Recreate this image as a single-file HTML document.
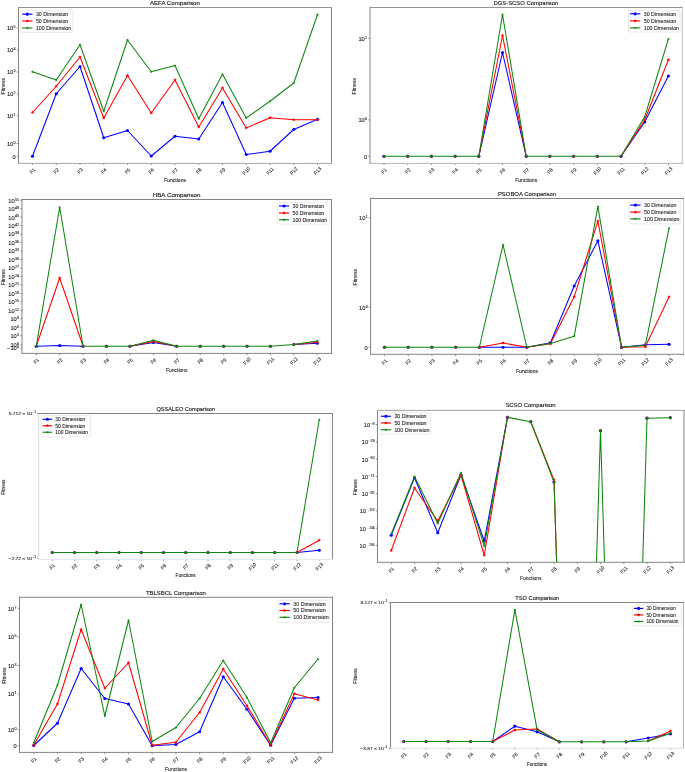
<!DOCTYPE html>
<html><head><meta charset="utf-8"><style>
html,body{margin:0;padding:0;background:#fff;overflow:hidden;}
svg{display:block;font-family:"Liberation Sans", sans-serif;will-change:transform;}
.t{fill:#1a1a1a;stroke:#1a1a1a;stroke-width:0.14px;}
.k{fill:#262626;stroke:#262626;stroke-width:0.1px;}
</style></head><body>
<svg width="685" height="772" viewBox="0 0 685 772">
<rect width="685" height="772" fill="#fff"/>
<clipPath id="c0"><rect x="18.5" y="7.5" width="313.00" height="155.80"/></clipPath>
<text x="149.90" y="5.10" font-size="6.00" textLength="49.90" lengthAdjust="spacingAndGlyphs" class="t">AEFA Comparison</text>
<path d="M16.80 28.00H18.5" stroke="#5a5a5a" stroke-width="0.7"/>
<text transform="translate(15.60,30.40) scale(1.15,1)" font-size="5.00" text-anchor="end" class="k">10<tspan dx="0.25" dy="-2.10" font-size="3.20">5</tspan></text>
<path d="M16.80 50.00H18.5" stroke="#5a5a5a" stroke-width="0.7"/>
<text transform="translate(15.60,52.40) scale(1.15,1)" font-size="5.00" text-anchor="end" class="k">10<tspan dx="0.25" dy="-2.10" font-size="3.20">4</tspan></text>
<path d="M16.80 72.00H18.5" stroke="#5a5a5a" stroke-width="0.7"/>
<text transform="translate(15.60,74.40) scale(1.15,1)" font-size="5.00" text-anchor="end" class="k">10<tspan dx="0.25" dy="-2.10" font-size="3.20">3</tspan></text>
<path d="M16.80 94.00H18.5" stroke="#5a5a5a" stroke-width="0.7"/>
<text transform="translate(15.60,96.40) scale(1.15,1)" font-size="5.00" text-anchor="end" class="k">10<tspan dx="0.25" dy="-2.10" font-size="3.20">2</tspan></text>
<path d="M16.80 115.75H18.5" stroke="#5a5a5a" stroke-width="0.7"/>
<text transform="translate(15.60,118.15) scale(1.15,1)" font-size="5.00" text-anchor="end" class="k">10<tspan dx="0.25" dy="-2.10" font-size="3.20">1</tspan></text>
<path d="M16.80 143.50H18.5" stroke="#5a5a5a" stroke-width="0.7"/>
<text transform="translate(15.60,145.90) scale(1.15,1)" font-size="5.00" text-anchor="end" class="k">10<tspan dx="0.25" dy="-2.10" font-size="3.20">0</tspan></text>
<path d="M16.80 156.25H18.5" stroke="#5a5a5a" stroke-width="0.7"/>
<text transform="translate(15.60,158.65) scale(1.15,1)" font-size="5.00" text-anchor="end" class="k">0</text>
<path d="M32.50 163.3V165.00" stroke="#5a5a5a" stroke-width="0.7"/>
<text transform="translate(32.50,170.90) rotate(-45)" y="1.76" font-size="4.90" text-anchor="middle" class="k">F1</text>
<path d="M56.25 163.3V165.00" stroke="#5a5a5a" stroke-width="0.7"/>
<text transform="translate(56.25,170.90) rotate(-45)" y="1.76" font-size="4.90" text-anchor="middle" class="k">F2</text>
<path d="M80.00 163.3V165.00" stroke="#5a5a5a" stroke-width="0.7"/>
<text transform="translate(80.00,170.90) rotate(-45)" y="1.76" font-size="4.90" text-anchor="middle" class="k">F3</text>
<path d="M103.75 163.3V165.00" stroke="#5a5a5a" stroke-width="0.7"/>
<text transform="translate(103.75,170.90) rotate(-45)" y="1.76" font-size="4.90" text-anchor="middle" class="k">F4</text>
<path d="M127.50 163.3V165.00" stroke="#5a5a5a" stroke-width="0.7"/>
<text transform="translate(127.50,170.90) rotate(-45)" y="1.76" font-size="4.90" text-anchor="middle" class="k">F5</text>
<path d="M151.25 163.3V165.00" stroke="#5a5a5a" stroke-width="0.7"/>
<text transform="translate(151.25,170.90) rotate(-45)" y="1.76" font-size="4.90" text-anchor="middle" class="k">F6</text>
<path d="M175.00 163.3V165.00" stroke="#5a5a5a" stroke-width="0.7"/>
<text transform="translate(175.00,170.90) rotate(-45)" y="1.76" font-size="4.90" text-anchor="middle" class="k">F7</text>
<path d="M198.75 163.3V165.00" stroke="#5a5a5a" stroke-width="0.7"/>
<text transform="translate(198.75,170.90) rotate(-45)" y="1.76" font-size="4.90" text-anchor="middle" class="k">F8</text>
<path d="M222.50 163.3V165.00" stroke="#5a5a5a" stroke-width="0.7"/>
<text transform="translate(222.50,170.90) rotate(-45)" y="1.76" font-size="4.90" text-anchor="middle" class="k">F9</text>
<path d="M246.25 163.3V165.00" stroke="#5a5a5a" stroke-width="0.7"/>
<text transform="translate(246.25,170.90) rotate(-45)" y="1.76" font-size="4.90" text-anchor="middle" class="k">F10</text>
<path d="M270.00 163.3V165.00" stroke="#5a5a5a" stroke-width="0.7"/>
<text transform="translate(270.00,170.90) rotate(-45)" y="1.76" font-size="4.90" text-anchor="middle" class="k">F11</text>
<path d="M293.75 163.3V165.00" stroke="#5a5a5a" stroke-width="0.7"/>
<text transform="translate(293.75,170.90) rotate(-45)" y="1.76" font-size="4.90" text-anchor="middle" class="k">F12</text>
<path d="M317.50 163.3V165.00" stroke="#5a5a5a" stroke-width="0.7"/>
<text transform="translate(317.50,170.90) rotate(-45)" y="1.76" font-size="4.90" text-anchor="middle" class="k">F13</text>
<text x="175.00" y="182.14" font-size="5.10" text-anchor="middle" class="k">Functions</text>
<text transform="translate(5.04,86.20) rotate(-90)" font-size="5.10" text-anchor="middle" class="k">Fitness</text>
<path d="M32.50 156.25L56.25 93.75L80.00 66.50L103.75 137.75L127.50 130.50L151.25 156.00L175.00 136.25L198.75 139.00L222.50 102.50L246.25 154.50L270.00 151.25L293.75 129.50L317.50 119.25" fill="none" stroke="#0000ff" stroke-width="1.05" stroke-linejoin="round" clip-path="url(#c0)"/>
<circle cx="32.50" cy="156.25" r="1.60" fill="#0000ff"/>
<circle cx="56.25" cy="93.75" r="1.60" fill="#0000ff"/>
<circle cx="80.00" cy="66.50" r="1.60" fill="#0000ff"/>
<circle cx="103.75" cy="137.75" r="1.60" fill="#0000ff"/>
<circle cx="127.50" cy="130.50" r="1.60" fill="#0000ff"/>
<circle cx="151.25" cy="156.00" r="1.60" fill="#0000ff"/>
<circle cx="175.00" cy="136.25" r="1.60" fill="#0000ff"/>
<circle cx="198.75" cy="139.00" r="1.60" fill="#0000ff"/>
<circle cx="222.50" cy="102.50" r="1.60" fill="#0000ff"/>
<circle cx="246.25" cy="154.50" r="1.60" fill="#0000ff"/>
<circle cx="270.00" cy="151.25" r="1.60" fill="#0000ff"/>
<circle cx="293.75" cy="129.50" r="1.60" fill="#0000ff"/>
<circle cx="317.50" cy="119.25" r="1.60" fill="#0000ff"/>
<path d="M32.50 112.50L56.25 86.25L80.00 57.00L103.75 118.00L127.50 75.50L151.25 113.00L175.00 80.00L198.75 127.00L222.50 88.00L246.25 128.00L270.00 117.75L293.75 119.75L317.50 119.75" fill="none" stroke="#ff0000" stroke-width="1.05" stroke-linejoin="round" clip-path="url(#c0)"/>
<polygon points="32.50,110.54 33.01,111.80 34.36,111.90 33.33,112.77 33.65,114.08 32.50,113.37 31.35,114.08 31.67,112.77 30.64,111.90 31.99,111.80" fill="#ff0000"/>
<polygon points="56.25,84.29 56.76,85.55 58.11,85.65 57.08,86.52 57.40,87.83 56.25,87.12 55.10,87.83 55.42,86.52 54.39,85.65 55.74,85.55" fill="#ff0000"/>
<polygon points="80.00,55.04 80.51,56.30 81.86,56.40 80.83,57.27 81.15,58.58 80.00,57.87 78.85,58.58 79.17,57.27 78.14,56.40 79.49,56.30" fill="#ff0000"/>
<polygon points="103.75,116.04 104.26,117.30 105.61,117.40 104.58,118.27 104.90,119.58 103.75,118.87 102.60,119.58 102.92,118.27 101.89,117.40 103.24,117.30" fill="#ff0000"/>
<polygon points="127.50,73.54 128.01,74.80 129.36,74.90 128.33,75.77 128.65,77.08 127.50,76.37 126.35,77.08 126.67,75.77 125.64,74.90 126.99,74.80" fill="#ff0000"/>
<polygon points="151.25,111.04 151.76,112.30 153.11,112.40 152.08,113.27 152.40,114.58 151.25,113.87 150.10,114.58 150.42,113.27 149.39,112.40 150.74,112.30" fill="#ff0000"/>
<polygon points="175.00,78.04 175.51,79.30 176.86,79.40 175.83,80.27 176.15,81.58 175.00,80.87 173.85,81.58 174.17,80.27 173.14,79.40 174.49,79.30" fill="#ff0000"/>
<polygon points="198.75,125.04 199.26,126.30 200.61,126.40 199.58,127.27 199.90,128.58 198.75,127.87 197.60,128.58 197.92,127.27 196.89,126.40 198.24,126.30" fill="#ff0000"/>
<polygon points="222.50,86.04 223.01,87.30 224.36,87.40 223.33,88.27 223.65,89.58 222.50,88.87 221.35,89.58 221.67,88.27 220.64,87.40 221.99,87.30" fill="#ff0000"/>
<polygon points="246.25,126.04 246.76,127.30 248.11,127.40 247.08,128.27 247.40,129.58 246.25,128.87 245.10,129.58 245.42,128.27 244.39,127.40 245.74,127.30" fill="#ff0000"/>
<polygon points="270.00,115.79 270.51,117.05 271.86,117.15 270.83,118.02 271.15,119.33 270.00,118.62 268.85,119.33 269.17,118.02 268.14,117.15 269.49,117.05" fill="#ff0000"/>
<polygon points="293.75,117.79 294.26,119.05 295.61,119.15 294.58,120.02 294.90,121.33 293.75,120.62 292.60,121.33 292.92,120.02 291.89,119.15 293.24,119.05" fill="#ff0000"/>
<polygon points="317.50,117.79 318.01,119.05 319.36,119.15 318.33,120.02 318.65,121.33 317.50,120.62 316.35,121.33 316.67,120.02 315.64,119.15 316.99,119.05" fill="#ff0000"/>
<path d="M32.50 71.75L56.25 80.00L80.00 44.75L103.75 111.25L127.50 40.00L151.25 71.75L175.00 65.50L198.75 118.75L222.50 74.25L246.25 118.00L270.00 101.25L293.75 83.00L317.50 14.50" fill="none" stroke="#0e860e" stroke-width="1.05" stroke-linejoin="round" clip-path="url(#c0)"/>
<polygon points="32.50,70.25 32.90,71.20 33.93,71.29 33.14,71.96 33.38,72.96 32.50,72.42 31.62,72.96 31.86,71.96 31.07,71.29 32.10,71.20" fill="#0e860e"/>
<polygon points="56.25,78.50 56.65,79.45 57.68,79.54 56.89,80.21 57.13,81.21 56.25,80.67 55.37,81.21 55.61,80.21 54.82,79.54 55.85,79.45" fill="#0e860e"/>
<polygon points="80.00,43.25 80.40,44.20 81.43,44.29 80.64,44.96 80.88,45.96 80.00,45.42 79.12,45.96 79.36,44.96 78.57,44.29 79.60,44.20" fill="#0e860e"/>
<polygon points="103.75,109.75 104.15,110.70 105.18,110.79 104.39,111.46 104.63,112.46 103.75,111.92 102.87,112.46 103.11,111.46 102.32,110.79 103.35,110.70" fill="#0e860e"/>
<polygon points="127.50,38.50 127.90,39.45 128.93,39.54 128.14,40.21 128.38,41.21 127.50,40.67 126.62,41.21 126.86,40.21 126.07,39.54 127.10,39.45" fill="#0e860e"/>
<polygon points="151.25,70.25 151.65,71.20 152.68,71.29 151.89,71.96 152.13,72.96 151.25,72.42 150.37,72.96 150.61,71.96 149.82,71.29 150.85,71.20" fill="#0e860e"/>
<polygon points="175.00,64.00 175.40,64.95 176.43,65.04 175.64,65.71 175.88,66.71 175.00,66.17 174.12,66.71 174.36,65.71 173.57,65.04 174.60,64.95" fill="#0e860e"/>
<polygon points="198.75,117.25 199.15,118.20 200.18,118.29 199.39,118.96 199.63,119.96 198.75,119.42 197.87,119.96 198.11,118.96 197.32,118.29 198.35,118.20" fill="#0e860e"/>
<polygon points="222.50,72.75 222.90,73.70 223.93,73.79 223.14,74.46 223.38,75.46 222.50,74.92 221.62,75.46 221.86,74.46 221.07,73.79 222.10,73.70" fill="#0e860e"/>
<polygon points="246.25,116.50 246.65,117.45 247.68,117.54 246.89,118.21 247.13,119.21 246.25,118.67 245.37,119.21 245.61,118.21 244.82,117.54 245.85,117.45" fill="#0e860e"/>
<polygon points="270.00,99.75 270.40,100.70 271.43,100.79 270.64,101.46 270.88,102.46 270.00,101.92 269.12,102.46 269.36,101.46 268.57,100.79 269.60,100.70" fill="#0e860e"/>
<polygon points="293.75,81.50 294.15,82.45 295.18,82.54 294.39,83.21 294.63,84.21 293.75,83.67 292.87,84.21 293.11,83.21 292.32,82.54 293.35,82.45" fill="#0e860e"/>
<polygon points="317.50,13.00 317.90,13.95 318.93,14.04 318.14,14.71 318.38,15.71 317.50,15.18 316.62,15.71 316.86,14.71 316.07,14.04 317.10,13.95" fill="#0e860e"/>
<path d="M18.50 7.50L18.50 163.40" stroke="#838383" stroke-width="1" stroke-linecap="square"/>
<path d="M331.50 7.50L331.50 163.40" stroke="#838383" stroke-width="1" stroke-linecap="square"/>
<path d="M18.50 7.50L331.50 7.50" stroke="#959595" stroke-width="1" stroke-linecap="square"/>
<path d="M18.50 163.40L331.50 163.40" stroke="#a5a5a5" stroke-width="1" stroke-linecap="square"/>
<rect x="20.7" y="10.3" width="52.30" height="22.10" rx="1" fill="#fff" fill-opacity="0.8" stroke="#dddddd" stroke-width="0.6"/>
<path d="M22.10 14.20H32.50" stroke="#0000ff" stroke-width="1.15"/>
<circle cx="27.30" cy="14.20" r="1.60" fill="#0000ff"/>
<text x="35.90" y="16.11" font-size="5.30" class="k">30 Dimension</text>
<path d="M22.10 21.00H32.50" stroke="#ff0000" stroke-width="1.15"/>
<polygon points="27.30,19.04 27.81,20.30 29.16,20.40 28.13,21.27 28.45,22.58 27.30,21.87 26.15,22.58 26.47,21.27 25.44,20.40 26.79,20.30" fill="#ff0000"/>
<text x="35.90" y="22.91" font-size="5.30" class="k">50 Dimension</text>
<path d="M22.10 28.00H32.50" stroke="#0e860e" stroke-width="1.15"/>
<polygon points="27.30,26.50 27.70,27.45 28.73,27.54 27.94,28.21 28.18,29.21 27.30,28.68 26.42,29.21 26.66,28.21 25.87,27.54 26.90,27.45" fill="#0e860e"/>
<text x="35.90" y="29.91" font-size="5.30" class="k">100 Dimension</text>
<clipPath id="c1"><rect x="370.0" y="7.5" width="312.40" height="155.80"/></clipPath>
<text x="493.45" y="5.10" font-size="6.00" textLength="64.85" lengthAdjust="spacingAndGlyphs" class="t">DGS-SCSO Comparison</text>
<path d="M368.30 38.30H370.0" stroke="#5a5a5a" stroke-width="0.7"/>
<text transform="translate(367.10,40.70) scale(1.15,1)" font-size="5.00" text-anchor="end" class="k">10<tspan dx="0.25" dy="-2.10" font-size="3.20">1</tspan></text>
<path d="M368.30 119.90H370.0" stroke="#5a5a5a" stroke-width="0.7"/>
<text transform="translate(367.10,122.30) scale(1.15,1)" font-size="5.00" text-anchor="end" class="k">10<tspan dx="0.25" dy="-2.10" font-size="3.20">0</tspan></text>
<path d="M368.30 156.30H370.0" stroke="#5a5a5a" stroke-width="0.7"/>
<text transform="translate(367.10,158.70) scale(1.15,1)" font-size="5.00" text-anchor="end" class="k">0</text>
<path d="M384.00 163.3V165.00" stroke="#5a5a5a" stroke-width="0.7"/>
<text transform="translate(384.00,170.90) rotate(-45)" y="1.76" font-size="4.90" text-anchor="middle" class="k">F1</text>
<path d="M407.70 163.3V165.00" stroke="#5a5a5a" stroke-width="0.7"/>
<text transform="translate(407.70,170.90) rotate(-45)" y="1.76" font-size="4.90" text-anchor="middle" class="k">F2</text>
<path d="M431.40 163.3V165.00" stroke="#5a5a5a" stroke-width="0.7"/>
<text transform="translate(431.40,170.90) rotate(-45)" y="1.76" font-size="4.90" text-anchor="middle" class="k">F3</text>
<path d="M455.10 163.3V165.00" stroke="#5a5a5a" stroke-width="0.7"/>
<text transform="translate(455.10,170.90) rotate(-45)" y="1.76" font-size="4.90" text-anchor="middle" class="k">F4</text>
<path d="M478.80 163.3V165.00" stroke="#5a5a5a" stroke-width="0.7"/>
<text transform="translate(478.80,170.90) rotate(-45)" y="1.76" font-size="4.90" text-anchor="middle" class="k">F5</text>
<path d="M502.50 163.3V165.00" stroke="#5a5a5a" stroke-width="0.7"/>
<text transform="translate(502.50,170.90) rotate(-45)" y="1.76" font-size="4.90" text-anchor="middle" class="k">F6</text>
<path d="M526.20 163.3V165.00" stroke="#5a5a5a" stroke-width="0.7"/>
<text transform="translate(526.20,170.90) rotate(-45)" y="1.76" font-size="4.90" text-anchor="middle" class="k">F7</text>
<path d="M549.90 163.3V165.00" stroke="#5a5a5a" stroke-width="0.7"/>
<text transform="translate(549.90,170.90) rotate(-45)" y="1.76" font-size="4.90" text-anchor="middle" class="k">F8</text>
<path d="M573.60 163.3V165.00" stroke="#5a5a5a" stroke-width="0.7"/>
<text transform="translate(573.60,170.90) rotate(-45)" y="1.76" font-size="4.90" text-anchor="middle" class="k">F9</text>
<path d="M597.30 163.3V165.00" stroke="#5a5a5a" stroke-width="0.7"/>
<text transform="translate(597.30,170.90) rotate(-45)" y="1.76" font-size="4.90" text-anchor="middle" class="k">F10</text>
<path d="M621.00 163.3V165.00" stroke="#5a5a5a" stroke-width="0.7"/>
<text transform="translate(621.00,170.90) rotate(-45)" y="1.76" font-size="4.90" text-anchor="middle" class="k">F11</text>
<path d="M644.70 163.3V165.00" stroke="#5a5a5a" stroke-width="0.7"/>
<text transform="translate(644.70,170.90) rotate(-45)" y="1.76" font-size="4.90" text-anchor="middle" class="k">F12</text>
<path d="M668.40 163.3V165.00" stroke="#5a5a5a" stroke-width="0.7"/>
<text transform="translate(668.40,170.90) rotate(-45)" y="1.76" font-size="4.90" text-anchor="middle" class="k">F13</text>
<text x="526.20" y="182.14" font-size="5.10" text-anchor="middle" class="k">Functions</text>
<text transform="translate(356.34,86.20) rotate(-90)" font-size="5.10" text-anchor="middle" class="k">Fitness</text>
<path d="M478.80 156.30L502.50 52.50L526.20 156.30M621.00 156.30L644.70 122.00L668.40 76.00" fill="none" stroke="#0000ff" stroke-width="1.05" stroke-linejoin="round" clip-path="url(#c1)"/>
<circle cx="384.00" cy="156.30" r="1.60" fill="#0000ff"/>
<circle cx="407.70" cy="156.30" r="1.60" fill="#0000ff"/>
<circle cx="431.40" cy="156.30" r="1.60" fill="#0000ff"/>
<circle cx="455.10" cy="156.30" r="1.60" fill="#0000ff"/>
<circle cx="478.80" cy="156.30" r="1.60" fill="#0000ff"/>
<circle cx="502.50" cy="52.50" r="1.60" fill="#0000ff"/>
<circle cx="526.20" cy="156.30" r="1.60" fill="#0000ff"/>
<circle cx="549.90" cy="156.30" r="1.60" fill="#0000ff"/>
<circle cx="573.60" cy="156.30" r="1.60" fill="#0000ff"/>
<circle cx="597.30" cy="156.30" r="1.60" fill="#0000ff"/>
<circle cx="621.00" cy="156.30" r="1.60" fill="#0000ff"/>
<circle cx="644.70" cy="122.00" r="1.60" fill="#0000ff"/>
<circle cx="668.40" cy="76.00" r="1.60" fill="#0000ff"/>
<path d="M478.80 156.30L502.50 35.50L526.20 156.30M621.00 156.30L644.70 120.00L668.40 59.80" fill="none" stroke="#ff0000" stroke-width="1.05" stroke-linejoin="round" clip-path="url(#c1)"/>
<polygon points="384.00,154.34 384.51,155.60 385.86,155.70 384.83,156.57 385.15,157.88 384.00,157.17 382.85,157.88 383.17,156.57 382.14,155.70 383.49,155.60" fill="#ff0000"/>
<polygon points="407.70,154.34 408.21,155.60 409.56,155.70 408.53,156.57 408.85,157.88 407.70,157.17 406.55,157.88 406.87,156.57 405.84,155.70 407.19,155.60" fill="#ff0000"/>
<polygon points="431.40,154.34 431.91,155.60 433.26,155.70 432.23,156.57 432.55,157.88 431.40,157.17 430.25,157.88 430.57,156.57 429.54,155.70 430.89,155.60" fill="#ff0000"/>
<polygon points="455.10,154.34 455.61,155.60 456.96,155.70 455.93,156.57 456.25,157.88 455.10,157.17 453.95,157.88 454.27,156.57 453.24,155.70 454.59,155.60" fill="#ff0000"/>
<polygon points="478.80,154.34 479.31,155.60 480.66,155.70 479.63,156.57 479.95,157.88 478.80,157.17 477.65,157.88 477.97,156.57 476.94,155.70 478.29,155.60" fill="#ff0000"/>
<polygon points="502.50,33.54 503.01,34.80 504.36,34.90 503.33,35.77 503.65,37.08 502.50,36.37 501.35,37.08 501.67,35.77 500.64,34.90 501.99,34.80" fill="#ff0000"/>
<polygon points="526.20,154.34 526.71,155.60 528.06,155.70 527.03,156.57 527.35,157.88 526.20,157.17 525.05,157.88 525.37,156.57 524.34,155.70 525.69,155.60" fill="#ff0000"/>
<polygon points="549.90,154.34 550.41,155.60 551.76,155.70 550.73,156.57 551.05,157.88 549.90,157.17 548.75,157.88 549.07,156.57 548.04,155.70 549.39,155.60" fill="#ff0000"/>
<polygon points="573.60,154.34 574.11,155.60 575.46,155.70 574.43,156.57 574.75,157.88 573.60,157.17 572.45,157.88 572.77,156.57 571.74,155.70 573.09,155.60" fill="#ff0000"/>
<polygon points="597.30,154.34 597.81,155.60 599.16,155.70 598.13,156.57 598.45,157.88 597.30,157.17 596.15,157.88 596.47,156.57 595.44,155.70 596.79,155.60" fill="#ff0000"/>
<polygon points="621.00,154.34 621.51,155.60 622.86,155.70 621.83,156.57 622.15,157.88 621.00,157.17 619.85,157.88 620.17,156.57 619.14,155.70 620.49,155.60" fill="#ff0000"/>
<polygon points="644.70,118.04 645.21,119.30 646.56,119.40 645.53,120.27 645.85,121.58 644.70,120.87 643.55,121.58 643.87,120.27 642.84,119.40 644.19,119.30" fill="#ff0000"/>
<polygon points="668.40,57.84 668.91,59.10 670.26,59.20 669.23,60.07 669.55,61.38 668.40,60.67 667.25,61.38 667.57,60.07 666.54,59.20 667.89,59.10" fill="#ff0000"/>
<path d="M384.00 156.30L407.70 156.30L431.40 156.30L455.10 156.30L478.80 156.30L502.50 14.50L526.20 156.30L549.90 156.30L573.60 156.30L597.30 156.30L621.00 156.30L644.70 116.80L668.40 39.00" fill="none" stroke="#0e860e" stroke-width="1.05" stroke-linejoin="round" clip-path="url(#c1)"/>
<polygon points="384.00,154.80 384.40,155.75 385.43,155.84 384.64,156.51 384.88,157.51 384.00,156.98 383.12,157.51 383.36,156.51 382.57,155.84 383.60,155.75" fill="#0e860e"/>
<polygon points="407.70,154.80 408.10,155.75 409.13,155.84 408.34,156.51 408.58,157.51 407.70,156.98 406.82,157.51 407.06,156.51 406.27,155.84 407.30,155.75" fill="#0e860e"/>
<polygon points="431.40,154.80 431.80,155.75 432.83,155.84 432.04,156.51 432.28,157.51 431.40,156.98 430.52,157.51 430.76,156.51 429.97,155.84 431.00,155.75" fill="#0e860e"/>
<polygon points="455.10,154.80 455.50,155.75 456.53,155.84 455.74,156.51 455.98,157.51 455.10,156.98 454.22,157.51 454.46,156.51 453.67,155.84 454.70,155.75" fill="#0e860e"/>
<polygon points="478.80,154.80 479.20,155.75 480.23,155.84 479.44,156.51 479.68,157.51 478.80,156.98 477.92,157.51 478.16,156.51 477.37,155.84 478.40,155.75" fill="#0e860e"/>
<polygon points="502.50,13.00 502.90,13.95 503.93,14.04 503.14,14.71 503.38,15.71 502.50,15.18 501.62,15.71 501.86,14.71 501.07,14.04 502.10,13.95" fill="#0e860e"/>
<polygon points="526.20,154.80 526.60,155.75 527.63,155.84 526.84,156.51 527.08,157.51 526.20,156.98 525.32,157.51 525.56,156.51 524.77,155.84 525.80,155.75" fill="#0e860e"/>
<polygon points="549.90,154.80 550.30,155.75 551.33,155.84 550.54,156.51 550.78,157.51 549.90,156.98 549.02,157.51 549.26,156.51 548.47,155.84 549.50,155.75" fill="#0e860e"/>
<polygon points="573.60,154.80 574.00,155.75 575.03,155.84 574.24,156.51 574.48,157.51 573.60,156.98 572.72,157.51 572.96,156.51 572.17,155.84 573.20,155.75" fill="#0e860e"/>
<polygon points="597.30,154.80 597.70,155.75 598.73,155.84 597.94,156.51 598.18,157.51 597.30,156.98 596.42,157.51 596.66,156.51 595.87,155.84 596.90,155.75" fill="#0e860e"/>
<polygon points="621.00,154.80 621.40,155.75 622.43,155.84 621.64,156.51 621.88,157.51 621.00,156.98 620.12,157.51 620.36,156.51 619.57,155.84 620.60,155.75" fill="#0e860e"/>
<polygon points="644.70,115.30 645.10,116.25 646.13,116.34 645.34,117.01 645.58,118.01 644.70,117.47 643.82,118.01 644.06,117.01 643.27,116.34 644.30,116.25" fill="#0e860e"/>
<polygon points="668.40,37.50 668.80,38.45 669.83,38.54 669.04,39.21 669.28,40.21 668.40,39.67 667.52,40.21 667.76,39.21 666.97,38.54 668.00,38.45" fill="#0e860e"/>
<path d="M370.00 7.50L370.00 163.40" stroke="#838383" stroke-width="1" stroke-linecap="square"/>
<path d="M682.30 7.50L682.30 163.40" stroke="#c3c3c3" stroke-width="1" stroke-linecap="square"/>
<path d="M370.00 7.50L682.30 7.50" stroke="#959595" stroke-width="1" stroke-linecap="square"/>
<path d="M370.00 163.40L682.30 163.40" stroke="#b5b5b5" stroke-width="1" stroke-linecap="square"/>
<rect x="628.5" y="10.5" width="51.70" height="21.50" rx="1" fill="#fff" fill-opacity="0.8" stroke="#dddddd" stroke-width="0.6"/>
<path d="M629.90 13.80H640.30" stroke="#0000ff" stroke-width="1.15"/>
<circle cx="635.10" cy="13.80" r="1.60" fill="#0000ff"/>
<text x="643.70" y="15.71" font-size="5.30" class="k">30 Dimension</text>
<path d="M629.90 20.90H640.30" stroke="#ff0000" stroke-width="1.15"/>
<polygon points="635.10,18.94 635.61,20.20 636.96,20.30 635.93,21.17 636.25,22.48 635.10,21.77 633.95,22.48 634.27,21.17 633.24,20.30 634.59,20.20" fill="#ff0000"/>
<text x="643.70" y="22.81" font-size="5.30" class="k">50 Dimension</text>
<path d="M629.90 27.90H640.30" stroke="#0e860e" stroke-width="1.15"/>
<polygon points="635.10,26.40 635.50,27.35 636.53,27.44 635.74,28.11 635.98,29.11 635.10,28.57 634.22,29.11 634.46,28.11 633.67,27.44 634.70,27.35" fill="#0e860e"/>
<text x="643.70" y="29.81" font-size="5.30" class="k">100 Dimension</text>
<clipPath id="c2"><rect x="22.0" y="199.5" width="309.50" height="153.90"/></clipPath>
<text x="152.70" y="197.20" font-size="5.88" textLength="47.85" lengthAdjust="spacingAndGlyphs" class="t">HBA Comparison</text>
<path d="M20.30 200.20H22.0" stroke="#5a5a5a" stroke-width="0.7"/>
<text transform="translate(19.10,202.60) scale(1.15,1)" font-size="5.00" text-anchor="end" class="k">10<tspan dx="0.25" dy="-2.10" font-size="3.20">51</tspan></text>
<path d="M20.30 208.67H22.0" stroke="#5a5a5a" stroke-width="0.7"/>
<text transform="translate(19.10,211.07) scale(1.15,1)" font-size="5.00" text-anchor="end" class="k">10<tspan dx="0.25" dy="-2.10" font-size="3.20">48</tspan></text>
<path d="M20.30 217.14H22.0" stroke="#5a5a5a" stroke-width="0.7"/>
<text transform="translate(19.10,219.54) scale(1.15,1)" font-size="5.00" text-anchor="end" class="k">10<tspan dx="0.25" dy="-2.10" font-size="3.20">45</tspan></text>
<path d="M20.30 225.61H22.0" stroke="#5a5a5a" stroke-width="0.7"/>
<text transform="translate(19.10,228.01) scale(1.15,1)" font-size="5.00" text-anchor="end" class="k">10<tspan dx="0.25" dy="-2.10" font-size="3.20">42</tspan></text>
<path d="M20.30 234.08H22.0" stroke="#5a5a5a" stroke-width="0.7"/>
<text transform="translate(19.10,236.48) scale(1.15,1)" font-size="5.00" text-anchor="end" class="k">10<tspan dx="0.25" dy="-2.10" font-size="3.20">39</tspan></text>
<path d="M20.30 242.55H22.0" stroke="#5a5a5a" stroke-width="0.7"/>
<text transform="translate(19.10,244.95) scale(1.15,1)" font-size="5.00" text-anchor="end" class="k">10<tspan dx="0.25" dy="-2.10" font-size="3.20">36</tspan></text>
<path d="M20.30 251.02H22.0" stroke="#5a5a5a" stroke-width="0.7"/>
<text transform="translate(19.10,253.42) scale(1.15,1)" font-size="5.00" text-anchor="end" class="k">10<tspan dx="0.25" dy="-2.10" font-size="3.20">33</tspan></text>
<path d="M20.30 259.49H22.0" stroke="#5a5a5a" stroke-width="0.7"/>
<text transform="translate(19.10,261.89) scale(1.15,1)" font-size="5.00" text-anchor="end" class="k">10<tspan dx="0.25" dy="-2.10" font-size="3.20">30</tspan></text>
<path d="M20.30 267.96H22.0" stroke="#5a5a5a" stroke-width="0.7"/>
<text transform="translate(19.10,270.36) scale(1.15,1)" font-size="5.00" text-anchor="end" class="k">10<tspan dx="0.25" dy="-2.10" font-size="3.20">27</tspan></text>
<path d="M20.30 276.43H22.0" stroke="#5a5a5a" stroke-width="0.7"/>
<text transform="translate(19.10,278.83) scale(1.15,1)" font-size="5.00" text-anchor="end" class="k">10<tspan dx="0.25" dy="-2.10" font-size="3.20">24</tspan></text>
<path d="M20.30 284.90H22.0" stroke="#5a5a5a" stroke-width="0.7"/>
<text transform="translate(19.10,287.30) scale(1.15,1)" font-size="5.00" text-anchor="end" class="k">10<tspan dx="0.25" dy="-2.10" font-size="3.20">21</tspan></text>
<path d="M20.30 293.37H22.0" stroke="#5a5a5a" stroke-width="0.7"/>
<text transform="translate(19.10,295.77) scale(1.15,1)" font-size="5.00" text-anchor="end" class="k">10<tspan dx="0.25" dy="-2.10" font-size="3.20">18</tspan></text>
<path d="M20.30 301.84H22.0" stroke="#5a5a5a" stroke-width="0.7"/>
<text transform="translate(19.10,304.24) scale(1.15,1)" font-size="5.00" text-anchor="end" class="k">10<tspan dx="0.25" dy="-2.10" font-size="3.20">15</tspan></text>
<path d="M20.30 310.31H22.0" stroke="#5a5a5a" stroke-width="0.7"/>
<text transform="translate(19.10,312.71) scale(1.15,1)" font-size="5.00" text-anchor="end" class="k">10<tspan dx="0.25" dy="-2.10" font-size="3.20">12</tspan></text>
<path d="M20.30 318.78H22.0" stroke="#5a5a5a" stroke-width="0.7"/>
<text transform="translate(19.10,321.18) scale(1.15,1)" font-size="5.00" text-anchor="end" class="k">10<tspan dx="0.25" dy="-2.10" font-size="3.20">9</tspan></text>
<path d="M20.30 327.25H22.0" stroke="#5a5a5a" stroke-width="0.7"/>
<text transform="translate(19.10,329.65) scale(1.15,1)" font-size="5.00" text-anchor="end" class="k">10<tspan dx="0.25" dy="-2.10" font-size="3.20">6</tspan></text>
<path d="M20.30 335.72H22.0" stroke="#5a5a5a" stroke-width="0.7"/>
<text transform="translate(19.10,338.12) scale(1.15,1)" font-size="5.00" text-anchor="end" class="k">10<tspan dx="0.25" dy="-2.10" font-size="3.20">3</tspan></text>
<path d="M20.30 344.90H22.0" stroke="#5a5a5a" stroke-width="0.7"/>
<text transform="translate(19.10,347.30) scale(1.15,1)" font-size="5.00" text-anchor="end" class="k">10<tspan dx="0.25" dy="-2.10" font-size="3.20">0</tspan></text>
<path d="M20.30 348.00H22.0" stroke="#5a5a5a" stroke-width="0.7"/>
<text transform="translate(19.10,350.40) scale(1.15,1)" font-size="5.00" text-anchor="end" class="k">−10<tspan dx="0.25" dy="-2.10" font-size="3.20">0</tspan></text>
<path d="M36.25 353.4V355.10" stroke="#5a5a5a" stroke-width="0.7"/>
<text transform="translate(36.25,361.00) rotate(-45)" y="1.76" font-size="4.90" text-anchor="middle" class="k">F1</text>
<path d="M59.67 353.4V355.10" stroke="#5a5a5a" stroke-width="0.7"/>
<text transform="translate(59.67,361.00) rotate(-45)" y="1.76" font-size="4.90" text-anchor="middle" class="k">F2</text>
<path d="M83.09 353.4V355.10" stroke="#5a5a5a" stroke-width="0.7"/>
<text transform="translate(83.09,361.00) rotate(-45)" y="1.76" font-size="4.90" text-anchor="middle" class="k">F3</text>
<path d="M106.51 353.4V355.10" stroke="#5a5a5a" stroke-width="0.7"/>
<text transform="translate(106.51,361.00) rotate(-45)" y="1.76" font-size="4.90" text-anchor="middle" class="k">F4</text>
<path d="M129.93 353.4V355.10" stroke="#5a5a5a" stroke-width="0.7"/>
<text transform="translate(129.93,361.00) rotate(-45)" y="1.76" font-size="4.90" text-anchor="middle" class="k">F5</text>
<path d="M153.35 353.4V355.10" stroke="#5a5a5a" stroke-width="0.7"/>
<text transform="translate(153.35,361.00) rotate(-45)" y="1.76" font-size="4.90" text-anchor="middle" class="k">F6</text>
<path d="M176.77 353.4V355.10" stroke="#5a5a5a" stroke-width="0.7"/>
<text transform="translate(176.77,361.00) rotate(-45)" y="1.76" font-size="4.90" text-anchor="middle" class="k">F7</text>
<path d="M200.19 353.4V355.10" stroke="#5a5a5a" stroke-width="0.7"/>
<text transform="translate(200.19,361.00) rotate(-45)" y="1.76" font-size="4.90" text-anchor="middle" class="k">F8</text>
<path d="M223.61 353.4V355.10" stroke="#5a5a5a" stroke-width="0.7"/>
<text transform="translate(223.61,361.00) rotate(-45)" y="1.76" font-size="4.90" text-anchor="middle" class="k">F9</text>
<path d="M247.03 353.4V355.10" stroke="#5a5a5a" stroke-width="0.7"/>
<text transform="translate(247.03,361.00) rotate(-45)" y="1.76" font-size="4.90" text-anchor="middle" class="k">F10</text>
<path d="M270.45 353.4V355.10" stroke="#5a5a5a" stroke-width="0.7"/>
<text transform="translate(270.45,361.00) rotate(-45)" y="1.76" font-size="4.90" text-anchor="middle" class="k">F11</text>
<path d="M293.87 353.4V355.10" stroke="#5a5a5a" stroke-width="0.7"/>
<text transform="translate(293.87,361.00) rotate(-45)" y="1.76" font-size="4.90" text-anchor="middle" class="k">F12</text>
<path d="M317.29 353.4V355.10" stroke="#5a5a5a" stroke-width="0.7"/>
<text transform="translate(317.29,361.00) rotate(-45)" y="1.76" font-size="4.90" text-anchor="middle" class="k">F13</text>
<text x="176.75" y="372.20" font-size="5.00" text-anchor="middle" class="k">Functions</text>
<text transform="translate(5.00,277.25) rotate(-90)" font-size="5.00" text-anchor="middle" class="k">Fitness</text>
<path d="M36.25 346.25L59.67 345.50L83.09 346.25M129.93 346.25L153.35 342.50L176.77 346.25M293.87 344.50L317.29 343.25" fill="none" stroke="#0000ff" stroke-width="1.05" stroke-linejoin="round" clip-path="url(#c2)"/>
<circle cx="36.25" cy="346.25" r="1.60" fill="#0000ff"/>
<circle cx="59.67" cy="345.50" r="1.60" fill="#0000ff"/>
<circle cx="83.09" cy="346.25" r="1.60" fill="#0000ff"/>
<circle cx="106.51" cy="346.25" r="1.60" fill="#0000ff"/>
<circle cx="129.93" cy="346.25" r="1.60" fill="#0000ff"/>
<circle cx="153.35" cy="342.50" r="1.60" fill="#0000ff"/>
<circle cx="176.77" cy="346.25" r="1.60" fill="#0000ff"/>
<circle cx="200.19" cy="346.25" r="1.60" fill="#0000ff"/>
<circle cx="223.61" cy="346.25" r="1.60" fill="#0000ff"/>
<circle cx="247.03" cy="346.25" r="1.60" fill="#0000ff"/>
<circle cx="270.45" cy="346.25" r="1.60" fill="#0000ff"/>
<circle cx="293.87" cy="344.50" r="1.60" fill="#0000ff"/>
<circle cx="317.29" cy="343.25" r="1.60" fill="#0000ff"/>
<path d="M36.25 346.25L59.67 278.00L83.09 346.25M129.93 346.25L153.35 341.50L176.77 346.25M293.87 344.50L317.29 342.25" fill="none" stroke="#ff0000" stroke-width="1.05" stroke-linejoin="round" clip-path="url(#c2)"/>
<polygon points="36.25,344.29 36.76,345.55 38.11,345.65 37.08,346.52 37.40,347.83 36.25,347.12 35.10,347.83 35.42,346.52 34.39,345.65 35.74,345.55" fill="#ff0000"/>
<polygon points="59.67,276.04 60.18,277.30 61.53,277.40 60.50,278.27 60.82,279.58 59.67,278.87 58.52,279.58 58.84,278.27 57.81,277.40 59.16,277.30" fill="#ff0000"/>
<polygon points="83.09,344.29 83.60,345.55 84.95,345.65 83.92,346.52 84.24,347.83 83.09,347.12 81.94,347.83 82.26,346.52 81.23,345.65 82.58,345.55" fill="#ff0000"/>
<polygon points="106.51,344.29 107.02,345.55 108.37,345.65 107.34,346.52 107.66,347.83 106.51,347.12 105.36,347.83 105.68,346.52 104.65,345.65 106.00,345.55" fill="#ff0000"/>
<polygon points="129.93,344.29 130.44,345.55 131.79,345.65 130.76,346.52 131.08,347.83 129.93,347.12 128.78,347.83 129.10,346.52 128.07,345.65 129.42,345.55" fill="#ff0000"/>
<polygon points="153.35,339.54 153.86,340.80 155.21,340.90 154.18,341.77 154.50,343.08 153.35,342.37 152.20,343.08 152.52,341.77 151.49,340.90 152.84,340.80" fill="#ff0000"/>
<polygon points="176.77,344.29 177.28,345.55 178.63,345.65 177.60,346.52 177.92,347.83 176.77,347.12 175.62,347.83 175.94,346.52 174.91,345.65 176.26,345.55" fill="#ff0000"/>
<polygon points="200.19,344.29 200.70,345.55 202.05,345.65 201.02,346.52 201.34,347.83 200.19,347.12 199.04,347.83 199.36,346.52 198.33,345.65 199.68,345.55" fill="#ff0000"/>
<polygon points="223.61,344.29 224.12,345.55 225.47,345.65 224.44,346.52 224.76,347.83 223.61,347.12 222.46,347.83 222.78,346.52 221.75,345.65 223.10,345.55" fill="#ff0000"/>
<polygon points="247.03,344.29 247.54,345.55 248.89,345.65 247.86,346.52 248.18,347.83 247.03,347.12 245.88,347.83 246.20,346.52 245.17,345.65 246.52,345.55" fill="#ff0000"/>
<polygon points="270.45,344.29 270.96,345.55 272.31,345.65 271.28,346.52 271.60,347.83 270.45,347.12 269.30,347.83 269.62,346.52 268.59,345.65 269.94,345.55" fill="#ff0000"/>
<polygon points="293.87,342.54 294.38,343.80 295.73,343.90 294.70,344.77 295.02,346.08 293.87,345.37 292.72,346.08 293.04,344.77 292.01,343.90 293.36,343.80" fill="#ff0000"/>
<polygon points="317.29,340.29 317.80,341.55 319.15,341.65 318.12,342.52 318.44,343.83 317.29,343.12 316.14,343.83 316.46,342.52 315.43,341.65 316.78,341.55" fill="#ff0000"/>
<path d="M36.25 346.25L59.67 207.25L83.09 346.25L106.51 346.25L129.93 346.25L153.35 340.25L176.77 346.25L200.19 346.25L223.61 346.25L247.03 346.25L270.45 346.25L293.87 344.50L317.29 341.00" fill="none" stroke="#0e860e" stroke-width="1.05" stroke-linejoin="round" clip-path="url(#c2)"/>
<polygon points="36.25,344.75 36.65,345.70 37.68,345.79 36.89,346.46 37.13,347.46 36.25,346.93 35.37,347.46 35.61,346.46 34.82,345.79 35.85,345.70" fill="#0e860e"/>
<polygon points="59.67,205.75 60.07,206.70 61.10,206.79 60.31,207.46 60.55,208.46 59.67,207.93 58.79,208.46 59.03,207.46 58.24,206.79 59.27,206.70" fill="#0e860e"/>
<polygon points="83.09,344.75 83.49,345.70 84.52,345.79 83.73,346.46 83.97,347.46 83.09,346.93 82.21,347.46 82.45,346.46 81.66,345.79 82.69,345.70" fill="#0e860e"/>
<polygon points="106.51,344.75 106.91,345.70 107.94,345.79 107.15,346.46 107.39,347.46 106.51,346.93 105.63,347.46 105.87,346.46 105.08,345.79 106.11,345.70" fill="#0e860e"/>
<polygon points="129.93,344.75 130.33,345.70 131.36,345.79 130.57,346.46 130.81,347.46 129.93,346.93 129.05,347.46 129.29,346.46 128.50,345.79 129.53,345.70" fill="#0e860e"/>
<polygon points="153.35,338.75 153.75,339.70 154.78,339.79 153.99,340.46 154.23,341.46 153.35,340.93 152.47,341.46 152.71,340.46 151.92,339.79 152.95,339.70" fill="#0e860e"/>
<polygon points="176.77,344.75 177.17,345.70 178.20,345.79 177.41,346.46 177.65,347.46 176.77,346.93 175.89,347.46 176.13,346.46 175.34,345.79 176.37,345.70" fill="#0e860e"/>
<polygon points="200.19,344.75 200.59,345.70 201.62,345.79 200.83,346.46 201.07,347.46 200.19,346.93 199.31,347.46 199.55,346.46 198.76,345.79 199.79,345.70" fill="#0e860e"/>
<polygon points="223.61,344.75 224.01,345.70 225.04,345.79 224.25,346.46 224.49,347.46 223.61,346.93 222.73,347.46 222.97,346.46 222.18,345.79 223.21,345.70" fill="#0e860e"/>
<polygon points="247.03,344.75 247.43,345.70 248.46,345.79 247.67,346.46 247.91,347.46 247.03,346.93 246.15,347.46 246.39,346.46 245.60,345.79 246.63,345.70" fill="#0e860e"/>
<polygon points="270.45,344.75 270.85,345.70 271.88,345.79 271.09,346.46 271.33,347.46 270.45,346.93 269.57,347.46 269.81,346.46 269.02,345.79 270.05,345.70" fill="#0e860e"/>
<polygon points="293.87,343.00 294.27,343.95 295.30,344.04 294.51,344.71 294.75,345.71 293.87,345.18 292.99,345.71 293.23,344.71 292.44,344.04 293.47,343.95" fill="#0e860e"/>
<polygon points="317.29,339.50 317.69,340.45 318.72,340.54 317.93,341.21 318.17,342.21 317.29,341.68 316.41,342.21 316.65,341.21 315.86,340.54 316.89,340.45" fill="#0e860e"/>
<path d="M22.00 199.50L22.00 353.40" stroke="#838383" stroke-width="1" stroke-linecap="square"/>
<path d="M331.50 199.50L331.50 353.40" stroke="#838383" stroke-width="1" stroke-linecap="square"/>
<path d="M22.00 199.50L331.50 199.50" stroke="#838383" stroke-width="1" stroke-linecap="square"/>
<path d="M22.00 353.40L331.50 353.40" stroke="#838383" stroke-width="1" stroke-linecap="square"/>
<rect x="277.6" y="202.4" width="52.20" height="21.80" rx="1" fill="#fff" fill-opacity="0.8" stroke="#dddddd" stroke-width="0.6"/>
<path d="M278.97 206.00H289.16" stroke="#0000ff" stroke-width="1.15"/>
<circle cx="284.07" cy="206.00" r="1.60" fill="#0000ff"/>
<text x="292.50" y="207.87" font-size="5.19" class="k">30 Dimension</text>
<path d="M278.97 213.00H289.16" stroke="#ff0000" stroke-width="1.15"/>
<polygon points="284.07,211.04 284.58,212.30 285.93,212.40 284.90,213.27 285.22,214.58 284.07,213.87 282.92,214.58 283.24,213.27 282.21,212.40 283.56,212.30" fill="#ff0000"/>
<text x="292.50" y="214.87" font-size="5.19" class="k">50 Dimension</text>
<path d="M278.97 219.75H289.16" stroke="#0e860e" stroke-width="1.15"/>
<polygon points="284.07,218.25 284.46,219.20 285.49,219.29 284.71,219.96 284.95,220.96 284.07,220.43 283.19,220.96 283.43,219.96 282.64,219.29 283.67,219.20" fill="#0e860e"/>
<text x="292.50" y="221.62" font-size="5.19" class="k">100 Dimension</text>
<clipPath id="c3"><rect x="370.6" y="198.5" width="312.80" height="155.80"/></clipPath>
<text x="497.95" y="196.00" font-size="6.00" textLength="58.05" lengthAdjust="spacingAndGlyphs" class="t">PSOBOA Comparison</text>
<path d="M368.90 217.75H370.6" stroke="#5a5a5a" stroke-width="0.7"/>
<text transform="translate(367.70,220.15) scale(1.15,1)" font-size="5.00" text-anchor="end" class="k">10<tspan dx="0.25" dy="-2.10" font-size="3.20">1</tspan></text>
<path d="M368.90 307.25H370.6" stroke="#5a5a5a" stroke-width="0.7"/>
<text transform="translate(367.70,309.65) scale(1.15,1)" font-size="5.00" text-anchor="end" class="k">10<tspan dx="0.25" dy="-2.10" font-size="3.20">0</tspan></text>
<path d="M368.90 347.25H370.6" stroke="#5a5a5a" stroke-width="0.7"/>
<text transform="translate(367.70,349.65) scale(1.15,1)" font-size="5.00" text-anchor="end" class="k">0</text>
<path d="M384.50 354.3V356.00" stroke="#5a5a5a" stroke-width="0.7"/>
<text transform="translate(384.50,361.90) rotate(-45)" y="1.76" font-size="4.90" text-anchor="middle" class="k">F1</text>
<path d="M408.21 354.3V356.00" stroke="#5a5a5a" stroke-width="0.7"/>
<text transform="translate(408.21,361.90) rotate(-45)" y="1.76" font-size="4.90" text-anchor="middle" class="k">F2</text>
<path d="M431.92 354.3V356.00" stroke="#5a5a5a" stroke-width="0.7"/>
<text transform="translate(431.92,361.90) rotate(-45)" y="1.76" font-size="4.90" text-anchor="middle" class="k">F3</text>
<path d="M455.63 354.3V356.00" stroke="#5a5a5a" stroke-width="0.7"/>
<text transform="translate(455.63,361.90) rotate(-45)" y="1.76" font-size="4.90" text-anchor="middle" class="k">F4</text>
<path d="M479.34 354.3V356.00" stroke="#5a5a5a" stroke-width="0.7"/>
<text transform="translate(479.34,361.90) rotate(-45)" y="1.76" font-size="4.90" text-anchor="middle" class="k">F5</text>
<path d="M503.05 354.3V356.00" stroke="#5a5a5a" stroke-width="0.7"/>
<text transform="translate(503.05,361.90) rotate(-45)" y="1.76" font-size="4.90" text-anchor="middle" class="k">F6</text>
<path d="M526.76 354.3V356.00" stroke="#5a5a5a" stroke-width="0.7"/>
<text transform="translate(526.76,361.90) rotate(-45)" y="1.76" font-size="4.90" text-anchor="middle" class="k">F7</text>
<path d="M550.47 354.3V356.00" stroke="#5a5a5a" stroke-width="0.7"/>
<text transform="translate(550.47,361.90) rotate(-45)" y="1.76" font-size="4.90" text-anchor="middle" class="k">F8</text>
<path d="M574.18 354.3V356.00" stroke="#5a5a5a" stroke-width="0.7"/>
<text transform="translate(574.18,361.90) rotate(-45)" y="1.76" font-size="4.90" text-anchor="middle" class="k">F9</text>
<path d="M597.89 354.3V356.00" stroke="#5a5a5a" stroke-width="0.7"/>
<text transform="translate(597.89,361.90) rotate(-45)" y="1.76" font-size="4.90" text-anchor="middle" class="k">F10</text>
<path d="M621.60 354.3V356.00" stroke="#5a5a5a" stroke-width="0.7"/>
<text transform="translate(621.60,361.90) rotate(-45)" y="1.76" font-size="4.90" text-anchor="middle" class="k">F11</text>
<path d="M645.31 354.3V356.00" stroke="#5a5a5a" stroke-width="0.7"/>
<text transform="translate(645.31,361.90) rotate(-45)" y="1.76" font-size="4.90" text-anchor="middle" class="k">F12</text>
<path d="M669.02 354.3V356.00" stroke="#5a5a5a" stroke-width="0.7"/>
<text transform="translate(669.02,361.90) rotate(-45)" y="1.76" font-size="4.90" text-anchor="middle" class="k">F13</text>
<text x="527.00" y="373.24" font-size="5.10" text-anchor="middle" class="k">Functions</text>
<text transform="translate(356.84,277.20) rotate(-90)" font-size="5.10" text-anchor="middle" class="k">Fitness</text>
<path d="M479.34 347.25L503.05 347.25L526.76 347.30L550.47 342.80L574.18 286.00L597.89 240.80L621.60 347.30L645.31 344.80L669.02 344.30" fill="none" stroke="#0000ff" stroke-width="1.05" stroke-linejoin="round" clip-path="url(#c3)"/>
<circle cx="384.50" cy="347.25" r="1.60" fill="#0000ff"/>
<circle cx="408.21" cy="347.25" r="1.60" fill="#0000ff"/>
<circle cx="431.92" cy="347.25" r="1.60" fill="#0000ff"/>
<circle cx="455.63" cy="347.25" r="1.60" fill="#0000ff"/>
<circle cx="479.34" cy="347.25" r="1.60" fill="#0000ff"/>
<circle cx="503.05" cy="347.25" r="1.60" fill="#0000ff"/>
<circle cx="526.76" cy="347.30" r="1.60" fill="#0000ff"/>
<circle cx="550.47" cy="342.80" r="1.60" fill="#0000ff"/>
<circle cx="574.18" cy="286.00" r="1.60" fill="#0000ff"/>
<circle cx="597.89" cy="240.80" r="1.60" fill="#0000ff"/>
<circle cx="621.60" cy="347.30" r="1.60" fill="#0000ff"/>
<circle cx="645.31" cy="344.80" r="1.60" fill="#0000ff"/>
<circle cx="669.02" cy="344.30" r="1.60" fill="#0000ff"/>
<path d="M479.34 347.25L503.05 343.00L526.76 347.30L550.47 343.80L574.18 296.80L597.89 221.20L621.60 347.30L645.31 346.80L669.02 297.00" fill="none" stroke="#ff0000" stroke-width="1.05" stroke-linejoin="round" clip-path="url(#c3)"/>
<polygon points="384.50,345.29 385.01,346.55 386.36,346.65 385.33,347.52 385.65,348.83 384.50,348.12 383.35,348.83 383.67,347.52 382.64,346.65 383.99,346.55" fill="#ff0000"/>
<polygon points="408.21,345.29 408.72,346.55 410.07,346.65 409.04,347.52 409.36,348.83 408.21,348.12 407.06,348.83 407.38,347.52 406.35,346.65 407.70,346.55" fill="#ff0000"/>
<polygon points="431.92,345.29 432.43,346.55 433.78,346.65 432.75,347.52 433.07,348.83 431.92,348.12 430.77,348.83 431.09,347.52 430.06,346.65 431.41,346.55" fill="#ff0000"/>
<polygon points="455.63,345.29 456.14,346.55 457.49,346.65 456.46,347.52 456.78,348.83 455.63,348.12 454.48,348.83 454.80,347.52 453.77,346.65 455.12,346.55" fill="#ff0000"/>
<polygon points="479.34,345.29 479.85,346.55 481.20,346.65 480.17,347.52 480.49,348.83 479.34,348.12 478.19,348.83 478.51,347.52 477.48,346.65 478.83,346.55" fill="#ff0000"/>
<polygon points="503.05,341.04 503.56,342.30 504.91,342.40 503.88,343.27 504.20,344.58 503.05,343.87 501.90,344.58 502.22,343.27 501.19,342.40 502.54,342.30" fill="#ff0000"/>
<polygon points="526.76,345.34 527.27,346.60 528.62,346.70 527.59,347.57 527.91,348.88 526.76,348.17 525.61,348.88 525.93,347.57 524.90,346.70 526.25,346.60" fill="#ff0000"/>
<polygon points="550.47,341.84 550.98,343.10 552.33,343.20 551.30,344.07 551.62,345.38 550.47,344.67 549.32,345.38 549.64,344.07 548.61,343.20 549.96,343.10" fill="#ff0000"/>
<polygon points="574.18,294.84 574.69,296.10 576.04,296.20 575.01,297.07 575.33,298.38 574.18,297.67 573.03,298.38 573.35,297.07 572.32,296.20 573.67,296.10" fill="#ff0000"/>
<polygon points="597.89,219.24 598.40,220.50 599.75,220.60 598.72,221.47 599.04,222.78 597.89,222.07 596.74,222.78 597.06,221.47 596.03,220.60 597.38,220.50" fill="#ff0000"/>
<polygon points="621.60,345.34 622.11,346.60 623.46,346.70 622.43,347.57 622.75,348.88 621.60,348.17 620.45,348.88 620.77,347.57 619.74,346.70 621.09,346.60" fill="#ff0000"/>
<polygon points="645.31,344.84 645.82,346.10 647.17,346.20 646.14,347.07 646.46,348.38 645.31,347.67 644.16,348.38 644.48,347.07 643.45,346.20 644.80,346.10" fill="#ff0000"/>
<polygon points="669.02,295.04 669.53,296.30 670.88,296.40 669.85,297.27 670.17,298.58 669.02,297.87 667.87,298.58 668.19,297.27 667.16,296.40 668.51,296.30" fill="#ff0000"/>
<path d="M384.50 347.25L408.21 347.25L431.92 347.25L455.63 347.25L479.34 347.25L503.05 244.75L526.76 347.00L550.47 343.50L574.18 336.30L597.89 206.60L621.60 347.30L645.31 345.30L669.02 228.20" fill="none" stroke="#0e860e" stroke-width="1.05" stroke-linejoin="round" clip-path="url(#c3)"/>
<polygon points="384.50,345.75 384.90,346.70 385.93,346.79 385.14,347.46 385.38,348.46 384.50,347.93 383.62,348.46 383.86,347.46 383.07,346.79 384.10,346.70" fill="#0e860e"/>
<polygon points="408.21,345.75 408.61,346.70 409.64,346.79 408.85,347.46 409.09,348.46 408.21,347.93 407.33,348.46 407.57,347.46 406.78,346.79 407.81,346.70" fill="#0e860e"/>
<polygon points="431.92,345.75 432.32,346.70 433.35,346.79 432.56,347.46 432.80,348.46 431.92,347.93 431.04,348.46 431.28,347.46 430.49,346.79 431.52,346.70" fill="#0e860e"/>
<polygon points="455.63,345.75 456.03,346.70 457.06,346.79 456.27,347.46 456.51,348.46 455.63,347.93 454.75,348.46 454.99,347.46 454.20,346.79 455.23,346.70" fill="#0e860e"/>
<polygon points="479.34,345.75 479.74,346.70 480.77,346.79 479.98,347.46 480.22,348.46 479.34,347.93 478.46,348.46 478.70,347.46 477.91,346.79 478.94,346.70" fill="#0e860e"/>
<polygon points="503.05,243.25 503.45,244.20 504.48,244.29 503.69,244.96 503.93,245.96 503.05,245.43 502.17,245.96 502.41,244.96 501.62,244.29 502.65,244.20" fill="#0e860e"/>
<polygon points="526.76,345.50 527.16,346.45 528.19,346.54 527.40,347.21 527.64,348.21 526.76,347.68 525.88,348.21 526.12,347.21 525.33,346.54 526.36,346.45" fill="#0e860e"/>
<polygon points="550.47,342.00 550.87,342.95 551.90,343.04 551.11,343.71 551.35,344.71 550.47,344.18 549.59,344.71 549.83,343.71 549.04,343.04 550.07,342.95" fill="#0e860e"/>
<polygon points="574.18,334.80 574.58,335.75 575.61,335.84 574.82,336.51 575.06,337.51 574.18,336.98 573.30,337.51 573.54,336.51 572.75,335.84 573.78,335.75" fill="#0e860e"/>
<polygon points="597.89,205.10 598.29,206.05 599.32,206.14 598.53,206.81 598.77,207.81 597.89,207.28 597.01,207.81 597.25,206.81 596.46,206.14 597.49,206.05" fill="#0e860e"/>
<polygon points="621.60,345.80 622.00,346.75 623.03,346.84 622.24,347.51 622.48,348.51 621.60,347.98 620.72,348.51 620.96,347.51 620.17,346.84 621.20,346.75" fill="#0e860e"/>
<polygon points="645.31,343.80 645.71,344.75 646.74,344.84 645.95,345.51 646.19,346.51 645.31,345.98 644.43,346.51 644.67,345.51 643.88,344.84 644.91,344.75" fill="#0e860e"/>
<polygon points="669.02,226.70 669.42,227.65 670.45,227.74 669.66,228.41 669.90,229.41 669.02,228.88 668.14,229.41 668.38,228.41 667.59,227.74 668.62,227.65" fill="#0e860e"/>
<path d="M370.60 198.50L370.60 354.30" stroke="#838383" stroke-width="1" stroke-linecap="square"/>
<path d="M683.50 198.50L683.50 354.30" stroke="#c5c5c5" stroke-width="1" stroke-linecap="square"/>
<path d="M370.60 198.50L683.50 198.50" stroke="#838383" stroke-width="1" stroke-linecap="square"/>
<path d="M370.60 354.30L683.50 354.30" stroke="#838383" stroke-width="1" stroke-linecap="square"/>
<rect x="628.8" y="201.1" width="51.90" height="22.70" rx="1" fill="#fff" fill-opacity="0.8" stroke="#dddddd" stroke-width="0.6"/>
<path d="M630.20 205.10H640.60" stroke="#0000ff" stroke-width="1.15"/>
<circle cx="635.40" cy="205.10" r="1.60" fill="#0000ff"/>
<text x="644.00" y="207.01" font-size="5.30" class="k">30 Dimension</text>
<path d="M630.20 212.10H640.60" stroke="#ff0000" stroke-width="1.15"/>
<polygon points="635.40,210.14 635.91,211.40 637.26,211.50 636.23,212.37 636.55,213.68 635.40,212.97 634.25,213.68 634.57,212.37 633.54,211.50 634.89,211.40" fill="#ff0000"/>
<text x="644.00" y="214.01" font-size="5.30" class="k">50 Dimension</text>
<path d="M630.20 218.90H640.60" stroke="#0e860e" stroke-width="1.15"/>
<polygon points="635.40,217.40 635.80,218.35 636.83,218.44 636.04,219.11 636.28,220.11 635.40,219.58 634.52,220.11 634.76,219.11 633.97,218.44 635.00,218.35" fill="#0e860e"/>
<text x="644.00" y="220.81" font-size="5.30" class="k">100 Dimension</text>
<clipPath id="c4"><rect x="38.8" y="413.5" width="293.65" height="145.55"/></clipPath>
<text x="156.45" y="410.95" font-size="5.46" textLength="58.60" lengthAdjust="spacingAndGlyphs" class="t">QSSALEO Comparison</text>
<path d="M37.10 413.50H38.8" stroke="#5a5a5a" stroke-width="0.7"/>
<text transform="translate(35.90,414.78) scale(1.12,1)" font-size="4.40" text-anchor="end" class="k">5.712 × 10<tspan dx="0.25" dy="-1.85" font-size="2.82">−1</tspan></text>
<path d="M37.10 558.50H38.8" stroke="#5a5a5a" stroke-width="0.7"/>
<text transform="translate(35.90,559.78) scale(1.12,1)" font-size="4.40" text-anchor="end" class="k">−2.72 × 10<tspan dx="0.25" dy="-1.85" font-size="2.82">−1</tspan></text>
<path d="M52.25 559.05V560.75" stroke="#5a5a5a" stroke-width="0.7"/>
<text transform="translate(52.25,566.65) rotate(-45)" y="1.76" font-size="4.90" text-anchor="middle" class="k">F1</text>
<path d="M74.50 559.05V560.75" stroke="#5a5a5a" stroke-width="0.7"/>
<text transform="translate(74.50,566.65) rotate(-45)" y="1.76" font-size="4.90" text-anchor="middle" class="k">F2</text>
<path d="M96.75 559.05V560.75" stroke="#5a5a5a" stroke-width="0.7"/>
<text transform="translate(96.75,566.65) rotate(-45)" y="1.76" font-size="4.90" text-anchor="middle" class="k">F3</text>
<path d="M119.00 559.05V560.75" stroke="#5a5a5a" stroke-width="0.7"/>
<text transform="translate(119.00,566.65) rotate(-45)" y="1.76" font-size="4.90" text-anchor="middle" class="k">F4</text>
<path d="M141.25 559.05V560.75" stroke="#5a5a5a" stroke-width="0.7"/>
<text transform="translate(141.25,566.65) rotate(-45)" y="1.76" font-size="4.90" text-anchor="middle" class="k">F5</text>
<path d="M163.50 559.05V560.75" stroke="#5a5a5a" stroke-width="0.7"/>
<text transform="translate(163.50,566.65) rotate(-45)" y="1.76" font-size="4.90" text-anchor="middle" class="k">F6</text>
<path d="M185.75 559.05V560.75" stroke="#5a5a5a" stroke-width="0.7"/>
<text transform="translate(185.75,566.65) rotate(-45)" y="1.76" font-size="4.90" text-anchor="middle" class="k">F7</text>
<path d="M208.00 559.05V560.75" stroke="#5a5a5a" stroke-width="0.7"/>
<text transform="translate(208.00,566.65) rotate(-45)" y="1.76" font-size="4.90" text-anchor="middle" class="k">F8</text>
<path d="M230.25 559.05V560.75" stroke="#5a5a5a" stroke-width="0.7"/>
<text transform="translate(230.25,566.65) rotate(-45)" y="1.76" font-size="4.90" text-anchor="middle" class="k">F9</text>
<path d="M252.50 559.05V560.75" stroke="#5a5a5a" stroke-width="0.7"/>
<text transform="translate(252.50,566.65) rotate(-45)" y="1.76" font-size="4.90" text-anchor="middle" class="k">F10</text>
<path d="M274.75 559.05V560.75" stroke="#5a5a5a" stroke-width="0.7"/>
<text transform="translate(274.75,566.65) rotate(-45)" y="1.76" font-size="4.90" text-anchor="middle" class="k">F11</text>
<path d="M297.00 559.05V560.75" stroke="#5a5a5a" stroke-width="0.7"/>
<text transform="translate(297.00,566.65) rotate(-45)" y="1.76" font-size="4.90" text-anchor="middle" class="k">F12</text>
<path d="M319.25 559.05V560.75" stroke="#5a5a5a" stroke-width="0.7"/>
<text transform="translate(319.25,566.65) rotate(-45)" y="1.76" font-size="4.90" text-anchor="middle" class="k">F13</text>
<text x="185.62" y="577.07" font-size="4.64" text-anchor="middle" class="k">Functions</text>
<text transform="translate(5.17,487.07) rotate(-90)" font-size="4.64" text-anchor="middle" class="k">Fitness</text>
<path d="M297.00 552.50L319.25 550.25" fill="none" stroke="#0000ff" stroke-width="1.05" stroke-linejoin="round" clip-path="url(#c4)"/>
<circle cx="52.25" cy="552.50" r="1.60" fill="#0000ff"/>
<circle cx="74.50" cy="552.50" r="1.60" fill="#0000ff"/>
<circle cx="96.75" cy="552.50" r="1.60" fill="#0000ff"/>
<circle cx="119.00" cy="552.50" r="1.60" fill="#0000ff"/>
<circle cx="141.25" cy="552.50" r="1.60" fill="#0000ff"/>
<circle cx="163.50" cy="552.50" r="1.60" fill="#0000ff"/>
<circle cx="185.75" cy="552.50" r="1.60" fill="#0000ff"/>
<circle cx="208.00" cy="552.50" r="1.60" fill="#0000ff"/>
<circle cx="230.25" cy="552.50" r="1.60" fill="#0000ff"/>
<circle cx="252.50" cy="552.50" r="1.60" fill="#0000ff"/>
<circle cx="274.75" cy="552.50" r="1.60" fill="#0000ff"/>
<circle cx="297.00" cy="552.50" r="1.60" fill="#0000ff"/>
<circle cx="319.25" cy="550.25" r="1.60" fill="#0000ff"/>
<path d="M297.00 552.50L319.25 540.25" fill="none" stroke="#ff0000" stroke-width="1.05" stroke-linejoin="round" clip-path="url(#c4)"/>
<polygon points="52.25,550.54 52.76,551.80 54.11,551.90 53.08,552.77 53.40,554.08 52.25,553.37 51.10,554.08 51.42,552.77 50.39,551.90 51.74,551.80" fill="#ff0000"/>
<polygon points="74.50,550.54 75.01,551.80 76.36,551.90 75.33,552.77 75.65,554.08 74.50,553.37 73.35,554.08 73.67,552.77 72.64,551.90 73.99,551.80" fill="#ff0000"/>
<polygon points="96.75,550.54 97.26,551.80 98.61,551.90 97.58,552.77 97.90,554.08 96.75,553.37 95.60,554.08 95.92,552.77 94.89,551.90 96.24,551.80" fill="#ff0000"/>
<polygon points="119.00,550.54 119.51,551.80 120.86,551.90 119.83,552.77 120.15,554.08 119.00,553.37 117.85,554.08 118.17,552.77 117.14,551.90 118.49,551.80" fill="#ff0000"/>
<polygon points="141.25,550.54 141.76,551.80 143.11,551.90 142.08,552.77 142.40,554.08 141.25,553.37 140.10,554.08 140.42,552.77 139.39,551.90 140.74,551.80" fill="#ff0000"/>
<polygon points="163.50,550.54 164.01,551.80 165.36,551.90 164.33,552.77 164.65,554.08 163.50,553.37 162.35,554.08 162.67,552.77 161.64,551.90 162.99,551.80" fill="#ff0000"/>
<polygon points="185.75,550.54 186.26,551.80 187.61,551.90 186.58,552.77 186.90,554.08 185.75,553.37 184.60,554.08 184.92,552.77 183.89,551.90 185.24,551.80" fill="#ff0000"/>
<polygon points="208.00,550.54 208.51,551.80 209.86,551.90 208.83,552.77 209.15,554.08 208.00,553.37 206.85,554.08 207.17,552.77 206.14,551.90 207.49,551.80" fill="#ff0000"/>
<polygon points="230.25,550.54 230.76,551.80 232.11,551.90 231.08,552.77 231.40,554.08 230.25,553.37 229.10,554.08 229.42,552.77 228.39,551.90 229.74,551.80" fill="#ff0000"/>
<polygon points="252.50,550.54 253.01,551.80 254.36,551.90 253.33,552.77 253.65,554.08 252.50,553.37 251.35,554.08 251.67,552.77 250.64,551.90 251.99,551.80" fill="#ff0000"/>
<polygon points="274.75,550.54 275.26,551.80 276.61,551.90 275.58,552.77 275.90,554.08 274.75,553.37 273.60,554.08 273.92,552.77 272.89,551.90 274.24,551.80" fill="#ff0000"/>
<polygon points="297.00,550.54 297.51,551.80 298.86,551.90 297.83,552.77 298.15,554.08 297.00,553.37 295.85,554.08 296.17,552.77 295.14,551.90 296.49,551.80" fill="#ff0000"/>
<polygon points="319.25,538.29 319.76,539.55 321.11,539.65 320.08,540.52 320.40,541.83 319.25,541.12 318.10,541.83 318.42,540.52 317.39,539.65 318.74,539.55" fill="#ff0000"/>
<path d="M52.25 552.50L74.50 552.50L96.75 552.50L119.00 552.50L141.25 552.50L163.50 552.50L185.75 552.50L208.00 552.50L230.25 552.50L252.50 552.50L274.75 552.50L297.00 552.50L319.25 419.75" fill="none" stroke="#0e860e" stroke-width="1.05" stroke-linejoin="round" clip-path="url(#c4)"/>
<polygon points="52.25,551.00 52.65,551.95 53.68,552.04 52.89,552.71 53.13,553.71 52.25,553.17 51.37,553.71 51.61,552.71 50.82,552.04 51.85,551.95" fill="#0e860e"/>
<polygon points="74.50,551.00 74.90,551.95 75.93,552.04 75.14,552.71 75.38,553.71 74.50,553.17 73.62,553.71 73.86,552.71 73.07,552.04 74.10,551.95" fill="#0e860e"/>
<polygon points="96.75,551.00 97.15,551.95 98.18,552.04 97.39,552.71 97.63,553.71 96.75,553.17 95.87,553.71 96.11,552.71 95.32,552.04 96.35,551.95" fill="#0e860e"/>
<polygon points="119.00,551.00 119.40,551.95 120.43,552.04 119.64,552.71 119.88,553.71 119.00,553.17 118.12,553.71 118.36,552.71 117.57,552.04 118.60,551.95" fill="#0e860e"/>
<polygon points="141.25,551.00 141.65,551.95 142.68,552.04 141.89,552.71 142.13,553.71 141.25,553.17 140.37,553.71 140.61,552.71 139.82,552.04 140.85,551.95" fill="#0e860e"/>
<polygon points="163.50,551.00 163.90,551.95 164.93,552.04 164.14,552.71 164.38,553.71 163.50,553.17 162.62,553.71 162.86,552.71 162.07,552.04 163.10,551.95" fill="#0e860e"/>
<polygon points="185.75,551.00 186.15,551.95 187.18,552.04 186.39,552.71 186.63,553.71 185.75,553.17 184.87,553.71 185.11,552.71 184.32,552.04 185.35,551.95" fill="#0e860e"/>
<polygon points="208.00,551.00 208.40,551.95 209.43,552.04 208.64,552.71 208.88,553.71 208.00,553.17 207.12,553.71 207.36,552.71 206.57,552.04 207.60,551.95" fill="#0e860e"/>
<polygon points="230.25,551.00 230.65,551.95 231.68,552.04 230.89,552.71 231.13,553.71 230.25,553.17 229.37,553.71 229.61,552.71 228.82,552.04 229.85,551.95" fill="#0e860e"/>
<polygon points="252.50,551.00 252.90,551.95 253.93,552.04 253.14,552.71 253.38,553.71 252.50,553.17 251.62,553.71 251.86,552.71 251.07,552.04 252.10,551.95" fill="#0e860e"/>
<polygon points="274.75,551.00 275.15,551.95 276.18,552.04 275.39,552.71 275.63,553.71 274.75,553.17 273.87,553.71 274.11,552.71 273.32,552.04 274.35,551.95" fill="#0e860e"/>
<polygon points="297.00,551.00 297.40,551.95 298.43,552.04 297.64,552.71 297.88,553.71 297.00,553.17 296.12,553.71 296.36,552.71 295.57,552.04 296.60,551.95" fill="#0e860e"/>
<polygon points="319.25,418.25 319.65,419.20 320.68,419.29 319.89,419.96 320.13,420.96 319.25,420.43 318.37,420.96 318.61,419.96 317.82,419.29 318.85,419.20" fill="#0e860e"/>
<path d="M38.70 413.50L38.70 559.40" stroke="#dcdcdc" stroke-width="1" stroke-linecap="square"/>
<path d="M332.45 413.50L332.45 559.40" stroke="#838383" stroke-width="1" stroke-linecap="square"/>
<path d="M38.70 413.50L332.45 413.50" stroke="#838383" stroke-width="1" stroke-linecap="square"/>
<path d="M38.70 559.40L332.45 559.40" stroke="#e5e5e5" stroke-width="1" stroke-linecap="square"/>
<rect x="41.3" y="415.4" width="49.00" height="21.40" rx="1" fill="#fff" fill-opacity="0.8" stroke="#dddddd" stroke-width="0.6"/>
<path d="M42.59 419.25H52.22" stroke="#0000ff" stroke-width="1.15"/>
<circle cx="47.41" cy="419.25" r="1.60" fill="#0000ff"/>
<text x="55.36" y="421.01" font-size="4.90" class="k">30 Dimension</text>
<path d="M42.59 425.75H52.22" stroke="#ff0000" stroke-width="1.15"/>
<polygon points="47.41,423.79 47.92,425.05 49.27,425.15 48.23,426.02 48.56,427.33 47.41,426.62 46.25,427.33 46.58,426.02 45.54,425.15 46.89,425.05" fill="#ff0000"/>
<text x="55.36" y="427.51" font-size="4.90" class="k">50 Dimension</text>
<path d="M42.59 432.25H52.22" stroke="#0e860e" stroke-width="1.15"/>
<polygon points="47.41,430.75 47.80,431.70 48.83,431.79 48.05,432.46 48.29,433.46 47.41,432.93 46.52,433.46 46.76,432.46 45.98,431.79 47.01,431.70" fill="#0e860e"/>
<text x="55.36" y="434.01" font-size="4.90" class="k">100 Dimension</text>
<clipPath id="c5"><rect x="377.5" y="410.5" width="306.50" height="151.80"/></clipPath>
<text x="505.45" y="407.45" font-size="5.82" textLength="50.05" lengthAdjust="spacingAndGlyphs" class="t">SCSO Comparison</text>
<path d="M375.80 424.60H377.5" stroke="#5a5a5a" stroke-width="0.7"/>
<text transform="translate(374.60,427.00) scale(1.15,1)" font-size="5.00" text-anchor="end" class="k">10<tspan dx="0.25" dy="-2.10" font-size="3.20">−8</tspan></text>
<path d="M375.80 441.87H377.5" stroke="#5a5a5a" stroke-width="0.7"/>
<text transform="translate(374.60,444.27) scale(1.15,1)" font-size="5.00" text-anchor="end" class="k">10<tspan dx="0.25" dy="-2.10" font-size="3.20">−29</tspan></text>
<path d="M375.80 459.14H377.5" stroke="#5a5a5a" stroke-width="0.7"/>
<text transform="translate(374.60,461.54) scale(1.15,1)" font-size="5.00" text-anchor="end" class="k">10<tspan dx="0.25" dy="-2.10" font-size="3.20">−50</tspan></text>
<path d="M375.80 476.41H377.5" stroke="#5a5a5a" stroke-width="0.7"/>
<text transform="translate(374.60,478.81) scale(1.15,1)" font-size="5.00" text-anchor="end" class="k">10<tspan dx="0.25" dy="-2.10" font-size="3.20">−71</tspan></text>
<path d="M375.80 493.68H377.5" stroke="#5a5a5a" stroke-width="0.7"/>
<text transform="translate(374.60,496.08) scale(1.15,1)" font-size="5.00" text-anchor="end" class="k">10<tspan dx="0.25" dy="-2.10" font-size="3.20">−92</tspan></text>
<path d="M375.80 510.95H377.5" stroke="#5a5a5a" stroke-width="0.7"/>
<text transform="translate(374.60,513.35) scale(1.15,1)" font-size="5.00" text-anchor="end" class="k">10<tspan dx="1.3" dy="-2.10" font-size="2.80">−113</tspan></text>
<path d="M375.80 528.22H377.5" stroke="#5a5a5a" stroke-width="0.7"/>
<text transform="translate(374.60,530.62) scale(1.15,1)" font-size="5.00" text-anchor="end" class="k">10<tspan dx="1.3" dy="-2.10" font-size="2.80">−134</tspan></text>
<path d="M375.80 545.49H377.5" stroke="#5a5a5a" stroke-width="0.7"/>
<text transform="translate(374.60,547.89) scale(1.15,1)" font-size="5.00" text-anchor="end" class="k">10<tspan dx="1.3" dy="-2.10" font-size="2.80">−155</tspan></text>
<path d="M391.25 562.3V564.00" stroke="#5a5a5a" stroke-width="0.7"/>
<text transform="translate(391.25,569.90) rotate(-45)" y="1.76" font-size="4.90" text-anchor="middle" class="k">F1</text>
<path d="M414.50 562.3V564.00" stroke="#5a5a5a" stroke-width="0.7"/>
<text transform="translate(414.50,569.90) rotate(-45)" y="1.76" font-size="4.90" text-anchor="middle" class="k">F2</text>
<path d="M437.75 562.3V564.00" stroke="#5a5a5a" stroke-width="0.7"/>
<text transform="translate(437.75,569.90) rotate(-45)" y="1.76" font-size="4.90" text-anchor="middle" class="k">F3</text>
<path d="M461.00 562.3V564.00" stroke="#5a5a5a" stroke-width="0.7"/>
<text transform="translate(461.00,569.90) rotate(-45)" y="1.76" font-size="4.90" text-anchor="middle" class="k">F4</text>
<path d="M484.25 562.3V564.00" stroke="#5a5a5a" stroke-width="0.7"/>
<text transform="translate(484.25,569.90) rotate(-45)" y="1.76" font-size="4.90" text-anchor="middle" class="k">F5</text>
<path d="M507.50 562.3V564.00" stroke="#5a5a5a" stroke-width="0.7"/>
<text transform="translate(507.50,569.90) rotate(-45)" y="1.76" font-size="4.90" text-anchor="middle" class="k">F6</text>
<path d="M530.75 562.3V564.00" stroke="#5a5a5a" stroke-width="0.7"/>
<text transform="translate(530.75,569.90) rotate(-45)" y="1.76" font-size="4.90" text-anchor="middle" class="k">F7</text>
<path d="M554.00 562.3V564.00" stroke="#5a5a5a" stroke-width="0.7"/>
<text transform="translate(554.00,569.90) rotate(-45)" y="1.76" font-size="4.90" text-anchor="middle" class="k">F8</text>
<path d="M577.25 562.3V564.00" stroke="#5a5a5a" stroke-width="0.7"/>
<text transform="translate(577.25,569.90) rotate(-45)" y="1.76" font-size="4.90" text-anchor="middle" class="k">F9</text>
<path d="M600.50 562.3V564.00" stroke="#5a5a5a" stroke-width="0.7"/>
<text transform="translate(600.50,569.90) rotate(-45)" y="1.76" font-size="4.90" text-anchor="middle" class="k">F10</text>
<path d="M623.75 562.3V564.00" stroke="#5a5a5a" stroke-width="0.7"/>
<text transform="translate(623.75,569.90) rotate(-45)" y="1.76" font-size="4.90" text-anchor="middle" class="k">F11</text>
<path d="M647.00 562.3V564.00" stroke="#5a5a5a" stroke-width="0.7"/>
<text transform="translate(647.00,569.90) rotate(-45)" y="1.76" font-size="4.90" text-anchor="middle" class="k">F12</text>
<path d="M670.25 562.3V564.00" stroke="#5a5a5a" stroke-width="0.7"/>
<text transform="translate(670.25,569.90) rotate(-45)" y="1.76" font-size="4.90" text-anchor="middle" class="k">F13</text>
<text x="530.75" y="580.18" font-size="4.95" text-anchor="middle" class="k">Functions</text>
<text transform="translate(356.78,487.20) rotate(-90)" font-size="4.95" text-anchor="middle" class="k">Fitness</text>
<path d="M391.25 535.25L414.50 477.75L437.75 532.75L461.00 474.75L484.25 541.00L507.50 417.25" fill="none" stroke="#0000ff" stroke-width="1.05" stroke-linejoin="round" clip-path="url(#c5)"/>
<circle cx="391.25" cy="535.25" r="1.60" fill="#0000ff"/>
<circle cx="414.50" cy="477.75" r="1.60" fill="#0000ff"/>
<circle cx="437.75" cy="532.75" r="1.60" fill="#0000ff"/>
<circle cx="461.00" cy="474.75" r="1.60" fill="#0000ff"/>
<circle cx="484.25" cy="541.00" r="1.60" fill="#0000ff"/>
<circle cx="507.50" cy="417.25" r="1.60" fill="#0000ff"/>
<circle cx="530.75" cy="421.70" r="1.60" fill="#0000ff"/>
<circle cx="554.00" cy="482.00" r="1.60" fill="#0000ff"/>
<circle cx="600.50" cy="430.70" r="1.60" fill="#0000ff"/>
<circle cx="647.00" cy="418.20" r="1.60" fill="#0000ff"/>
<circle cx="670.25" cy="417.70" r="1.60" fill="#0000ff"/>
<path d="M391.25 550.50L414.50 488.00L437.75 521.00L461.00 475.00L484.25 555.25L507.50 417.25M530.75 421.70L554.00 480.00L577.25 1200.00" fill="none" stroke="#ff0000" stroke-width="1.05" stroke-linejoin="round" clip-path="url(#c5)"/>
<polygon points="391.25,548.54 391.76,549.80 393.11,549.90 392.08,550.77 392.40,552.08 391.25,551.37 390.10,552.08 390.42,550.77 389.39,549.90 390.74,549.80" fill="#ff0000"/>
<polygon points="414.50,486.04 415.01,487.30 416.36,487.40 415.33,488.27 415.65,489.58 414.50,488.87 413.35,489.58 413.67,488.27 412.64,487.40 413.99,487.30" fill="#ff0000"/>
<polygon points="437.75,519.04 438.26,520.30 439.61,520.40 438.58,521.27 438.90,522.58 437.75,521.87 436.60,522.58 436.92,521.27 435.89,520.40 437.24,520.30" fill="#ff0000"/>
<polygon points="461.00,473.04 461.51,474.30 462.86,474.40 461.83,475.27 462.15,476.58 461.00,475.87 459.85,476.58 460.17,475.27 459.14,474.40 460.49,474.30" fill="#ff0000"/>
<polygon points="484.25,553.29 484.76,554.55 486.11,554.65 485.08,555.52 485.40,556.83 484.25,556.12 483.10,556.83 483.42,555.52 482.39,554.65 483.74,554.55" fill="#ff0000"/>
<polygon points="507.50,415.29 508.01,416.55 509.36,416.65 508.33,417.52 508.65,418.83 507.50,418.12 506.35,418.83 506.67,417.52 505.64,416.65 506.99,416.55" fill="#ff0000"/>
<polygon points="530.75,419.74 531.26,421.00 532.61,421.10 531.58,421.97 531.90,423.28 530.75,422.57 529.60,423.28 529.92,421.97 528.89,421.10 530.24,421.00" fill="#ff0000"/>
<polygon points="554.00,478.04 554.51,479.30 555.86,479.40 554.83,480.27 555.15,481.58 554.00,480.87 552.85,481.58 553.17,480.27 552.14,479.40 553.49,479.30" fill="#ff0000"/>
<polygon points="600.50,428.74 601.01,430.00 602.36,430.10 601.33,430.97 601.65,432.28 600.50,431.57 599.35,432.28 599.67,430.97 598.64,430.10 599.99,430.00" fill="#ff0000"/>
<polygon points="647.00,416.24 647.51,417.50 648.86,417.60 647.83,418.47 648.15,419.78 647.00,419.07 645.85,419.78 646.17,418.47 645.14,417.60 646.49,417.50" fill="#ff0000"/>
<polygon points="670.25,415.74 670.76,417.00 672.11,417.10 671.08,417.97 671.40,419.28 670.25,418.57 669.10,419.28 669.42,417.97 668.39,417.10 669.74,417.00" fill="#ff0000"/>
<path d="M391.25 534.00L414.50 476.50L437.75 523.50L461.00 472.75L484.25 546.00L507.50 417.25L530.75 421.70L554.00 482.00L577.25 1200.00L600.50 430.70L623.75 1200.00L647.00 418.20L670.25 417.70" fill="none" stroke="#0e860e" stroke-width="1.05" stroke-linejoin="round" clip-path="url(#c5)"/>
<polygon points="391.25,532.50 391.65,533.45 392.68,533.54 391.89,534.21 392.13,535.21 391.25,534.67 390.37,535.21 390.61,534.21 389.82,533.54 390.85,533.45" fill="#0e860e"/>
<polygon points="414.50,475.00 414.90,475.95 415.93,476.04 415.14,476.71 415.38,477.71 414.50,477.18 413.62,477.71 413.86,476.71 413.07,476.04 414.10,475.95" fill="#0e860e"/>
<polygon points="437.75,522.00 438.15,522.95 439.18,523.04 438.39,523.71 438.63,524.71 437.75,524.17 436.87,524.71 437.11,523.71 436.32,523.04 437.35,522.95" fill="#0e860e"/>
<polygon points="461.00,471.25 461.40,472.20 462.43,472.29 461.64,472.96 461.88,473.96 461.00,473.43 460.12,473.96 460.36,472.96 459.57,472.29 460.60,472.20" fill="#0e860e"/>
<polygon points="484.25,544.50 484.65,545.45 485.68,545.54 484.89,546.21 485.13,547.21 484.25,546.67 483.37,547.21 483.61,546.21 482.82,545.54 483.85,545.45" fill="#0e860e"/>
<polygon points="507.50,415.75 507.90,416.70 508.93,416.79 508.14,417.46 508.38,418.46 507.50,417.93 506.62,418.46 506.86,417.46 506.07,416.79 507.10,416.70" fill="#0e860e"/>
<polygon points="530.75,420.20 531.15,421.15 532.18,421.24 531.39,421.91 531.63,422.91 530.75,422.38 529.87,422.91 530.11,421.91 529.32,421.24 530.35,421.15" fill="#0e860e"/>
<polygon points="554.00,480.50 554.40,481.45 555.43,481.54 554.64,482.21 554.88,483.21 554.00,482.68 553.12,483.21 553.36,482.21 552.57,481.54 553.60,481.45" fill="#0e860e"/>
<polygon points="600.50,429.20 600.90,430.15 601.93,430.24 601.14,430.91 601.38,431.91 600.50,431.38 599.62,431.91 599.86,430.91 599.07,430.24 600.10,430.15" fill="#0e860e"/>
<polygon points="647.00,416.70 647.40,417.65 648.43,417.74 647.64,418.41 647.88,419.41 647.00,418.88 646.12,419.41 646.36,418.41 645.57,417.74 646.60,417.65" fill="#0e860e"/>
<polygon points="670.25,416.20 670.65,417.15 671.68,417.24 670.89,417.91 671.13,418.91 670.25,418.38 669.37,418.91 669.61,417.91 668.82,417.24 669.85,417.15" fill="#0e860e"/>
<path d="M377.50 410.40L377.50 562.30" stroke="#838383" stroke-width="1" stroke-linecap="square"/>
<path d="M684.00 410.40L684.00 562.30" stroke="#838383" stroke-width="1" stroke-linecap="square"/>
<path d="M377.50 410.40L684.00 410.40" stroke="#a0a0a0" stroke-width="1" stroke-linecap="square"/>
<path d="M377.50 562.30L684.00 562.30" stroke="#838383" stroke-width="1" stroke-linecap="square"/>
<rect x="379.4" y="412.7" width="51.30" height="21.40" rx="1" fill="#fff" fill-opacity="0.8" stroke="#dddddd" stroke-width="0.6"/>
<path d="M380.79 416.25H391.08" stroke="#0000ff" stroke-width="1.15"/>
<circle cx="385.93" cy="416.25" r="1.60" fill="#0000ff"/>
<text x="394.45" y="418.14" font-size="5.25" class="k">30 Dimension</text>
<path d="M380.79 423.00H391.08" stroke="#ff0000" stroke-width="1.15"/>
<polygon points="385.93,421.04 386.45,422.30 387.80,422.40 386.76,423.27 387.08,424.58 385.93,423.87 384.78,424.58 385.11,423.27 384.07,422.40 385.42,422.30" fill="#ff0000"/>
<text x="394.45" y="424.89" font-size="5.25" class="k">50 Dimension</text>
<path d="M380.79 429.75H391.08" stroke="#0e860e" stroke-width="1.15"/>
<polygon points="385.93,428.25 386.33,429.20 387.36,429.29 386.58,429.96 386.82,430.96 385.93,430.43 385.05,430.96 385.29,429.96 384.51,429.29 385.54,429.20" fill="#0e860e"/>
<text x="394.45" y="431.64" font-size="5.25" class="k">100 Dimension</text>
<clipPath id="c6"><rect x="19.5" y="597.3" width="313.00" height="155.10"/></clipPath>
<text x="145.95" y="594.70" font-size="6.00" textLength="59.85" lengthAdjust="spacingAndGlyphs" class="t">TBLSBCL Comparison</text>
<path d="M17.80 608.25H19.5" stroke="#5a5a5a" stroke-width="0.7"/>
<text transform="translate(16.60,610.65) scale(1.15,1)" font-size="5.00" text-anchor="end" class="k">10<tspan dx="0.25" dy="-2.10" font-size="3.20">7</tspan></text>
<path d="M17.80 637.00H19.5" stroke="#5a5a5a" stroke-width="0.7"/>
<text transform="translate(16.60,639.40) scale(1.15,1)" font-size="5.00" text-anchor="end" class="k">10<tspan dx="0.25" dy="-2.10" font-size="3.20">5</tspan></text>
<path d="M17.80 665.50H19.5" stroke="#5a5a5a" stroke-width="0.7"/>
<text transform="translate(16.60,667.90) scale(1.15,1)" font-size="5.00" text-anchor="end" class="k">10<tspan dx="0.25" dy="-2.10" font-size="3.20">3</tspan></text>
<path d="M17.80 694.00H19.5" stroke="#5a5a5a" stroke-width="0.7"/>
<text transform="translate(16.60,696.40) scale(1.15,1)" font-size="5.00" text-anchor="end" class="k">10<tspan dx="0.25" dy="-2.10" font-size="3.20">1</tspan></text>
<path d="M17.80 729.50H19.5" stroke="#5a5a5a" stroke-width="0.7"/>
<text transform="translate(16.60,731.90) scale(1.15,1)" font-size="5.00" text-anchor="end" class="k">10<tspan dx="0.25" dy="-2.10" font-size="3.20">0</tspan></text>
<path d="M17.80 745.50H19.5" stroke="#5a5a5a" stroke-width="0.7"/>
<text transform="translate(16.60,747.90) scale(1.15,1)" font-size="5.00" text-anchor="end" class="k">0</text>
<path d="M33.75 752.4V754.10" stroke="#5a5a5a" stroke-width="0.7"/>
<text transform="translate(33.75,760.00) rotate(-45)" y="1.76" font-size="4.90" text-anchor="middle" class="k">F1</text>
<path d="M57.44 752.4V754.10" stroke="#5a5a5a" stroke-width="0.7"/>
<text transform="translate(57.44,760.00) rotate(-45)" y="1.76" font-size="4.90" text-anchor="middle" class="k">F2</text>
<path d="M81.13 752.4V754.10" stroke="#5a5a5a" stroke-width="0.7"/>
<text transform="translate(81.13,760.00) rotate(-45)" y="1.76" font-size="4.90" text-anchor="middle" class="k">F3</text>
<path d="M104.82 752.4V754.10" stroke="#5a5a5a" stroke-width="0.7"/>
<text transform="translate(104.82,760.00) rotate(-45)" y="1.76" font-size="4.90" text-anchor="middle" class="k">F4</text>
<path d="M128.51 752.4V754.10" stroke="#5a5a5a" stroke-width="0.7"/>
<text transform="translate(128.51,760.00) rotate(-45)" y="1.76" font-size="4.90" text-anchor="middle" class="k">F5</text>
<path d="M152.20 752.4V754.10" stroke="#5a5a5a" stroke-width="0.7"/>
<text transform="translate(152.20,760.00) rotate(-45)" y="1.76" font-size="4.90" text-anchor="middle" class="k">F6</text>
<path d="M175.89 752.4V754.10" stroke="#5a5a5a" stroke-width="0.7"/>
<text transform="translate(175.89,760.00) rotate(-45)" y="1.76" font-size="4.90" text-anchor="middle" class="k">F7</text>
<path d="M199.58 752.4V754.10" stroke="#5a5a5a" stroke-width="0.7"/>
<text transform="translate(199.58,760.00) rotate(-45)" y="1.76" font-size="4.90" text-anchor="middle" class="k">F8</text>
<path d="M223.27 752.4V754.10" stroke="#5a5a5a" stroke-width="0.7"/>
<text transform="translate(223.27,760.00) rotate(-45)" y="1.76" font-size="4.90" text-anchor="middle" class="k">F9</text>
<path d="M246.96 752.4V754.10" stroke="#5a5a5a" stroke-width="0.7"/>
<text transform="translate(246.96,760.00) rotate(-45)" y="1.76" font-size="4.90" text-anchor="middle" class="k">F10</text>
<path d="M270.65 752.4V754.10" stroke="#5a5a5a" stroke-width="0.7"/>
<text transform="translate(270.65,760.00) rotate(-45)" y="1.76" font-size="4.90" text-anchor="middle" class="k">F11</text>
<path d="M294.34 752.4V754.10" stroke="#5a5a5a" stroke-width="0.7"/>
<text transform="translate(294.34,760.00) rotate(-45)" y="1.76" font-size="4.90" text-anchor="middle" class="k">F12</text>
<path d="M318.03 752.4V754.10" stroke="#5a5a5a" stroke-width="0.7"/>
<text transform="translate(318.03,760.00) rotate(-45)" y="1.76" font-size="4.90" text-anchor="middle" class="k">F13</text>
<text x="176.00" y="771.44" font-size="5.10" text-anchor="middle" class="k">Functions</text>
<text transform="translate(6.34,675.65) rotate(-90)" font-size="5.10" text-anchor="middle" class="k">Fitness</text>
<path d="M33.75 745.50L57.44 723.25L81.13 668.50L104.82 698.50L128.51 704.00L152.20 745.75L175.89 744.50L199.58 731.75L223.27 676.75L246.96 709.25L270.65 745.25L294.34 698.25L318.03 697.50" fill="none" stroke="#0000ff" stroke-width="1.05" stroke-linejoin="round" clip-path="url(#c6)"/>
<circle cx="33.75" cy="745.50" r="1.60" fill="#0000ff"/>
<circle cx="57.44" cy="723.25" r="1.60" fill="#0000ff"/>
<circle cx="81.13" cy="668.50" r="1.60" fill="#0000ff"/>
<circle cx="104.82" cy="698.50" r="1.60" fill="#0000ff"/>
<circle cx="128.51" cy="704.00" r="1.60" fill="#0000ff"/>
<circle cx="152.20" cy="745.75" r="1.60" fill="#0000ff"/>
<circle cx="175.89" cy="744.50" r="1.60" fill="#0000ff"/>
<circle cx="199.58" cy="731.75" r="1.60" fill="#0000ff"/>
<circle cx="223.27" cy="676.75" r="1.60" fill="#0000ff"/>
<circle cx="246.96" cy="709.25" r="1.60" fill="#0000ff"/>
<circle cx="270.65" cy="745.25" r="1.60" fill="#0000ff"/>
<circle cx="294.34" cy="698.25" r="1.60" fill="#0000ff"/>
<circle cx="318.03" cy="697.50" r="1.60" fill="#0000ff"/>
<path d="M33.75 745.00L57.44 704.00L81.13 629.50L104.82 688.25L128.51 662.75L152.20 745.25L175.89 742.25L199.58 712.50L223.27 669.00L246.96 705.75L270.65 744.75L294.34 693.75L318.03 700.00" fill="none" stroke="#ff0000" stroke-width="1.05" stroke-linejoin="round" clip-path="url(#c6)"/>
<polygon points="33.75,743.04 34.26,744.30 35.61,744.40 34.58,745.27 34.90,746.58 33.75,745.87 32.60,746.58 32.92,745.27 31.89,744.40 33.24,744.30" fill="#ff0000"/>
<polygon points="57.44,702.04 57.95,703.30 59.30,703.40 58.27,704.27 58.59,705.58 57.44,704.87 56.29,705.58 56.61,704.27 55.58,703.40 56.93,703.30" fill="#ff0000"/>
<polygon points="81.13,627.54 81.64,628.80 82.99,628.90 81.96,629.77 82.28,631.08 81.13,630.37 79.98,631.08 80.30,629.77 79.27,628.90 80.62,628.80" fill="#ff0000"/>
<polygon points="104.82,686.29 105.33,687.55 106.68,687.65 105.65,688.52 105.97,689.83 104.82,689.12 103.67,689.83 103.99,688.52 102.96,687.65 104.31,687.55" fill="#ff0000"/>
<polygon points="128.51,660.79 129.02,662.05 130.37,662.15 129.34,663.02 129.66,664.33 128.51,663.62 127.36,664.33 127.68,663.02 126.65,662.15 128.00,662.05" fill="#ff0000"/>
<polygon points="152.20,743.29 152.71,744.55 154.06,744.65 153.03,745.52 153.35,746.83 152.20,746.12 151.05,746.83 151.37,745.52 150.34,744.65 151.69,744.55" fill="#ff0000"/>
<polygon points="175.89,740.29 176.40,741.55 177.75,741.65 176.72,742.52 177.04,743.83 175.89,743.12 174.74,743.83 175.06,742.52 174.03,741.65 175.38,741.55" fill="#ff0000"/>
<polygon points="199.58,710.54 200.09,711.80 201.44,711.90 200.41,712.77 200.73,714.08 199.58,713.37 198.43,714.08 198.75,712.77 197.72,711.90 199.07,711.80" fill="#ff0000"/>
<polygon points="223.27,667.04 223.78,668.30 225.13,668.40 224.10,669.27 224.42,670.58 223.27,669.87 222.12,670.58 222.44,669.27 221.41,668.40 222.76,668.30" fill="#ff0000"/>
<polygon points="246.96,703.79 247.47,705.05 248.82,705.15 247.79,706.02 248.11,707.33 246.96,706.62 245.81,707.33 246.13,706.02 245.10,705.15 246.45,705.05" fill="#ff0000"/>
<polygon points="270.65,742.79 271.16,744.05 272.51,744.15 271.48,745.02 271.80,746.33 270.65,745.62 269.50,746.33 269.82,745.02 268.79,744.15 270.14,744.05" fill="#ff0000"/>
<polygon points="294.34,691.79 294.85,693.05 296.20,693.15 295.17,694.02 295.49,695.33 294.34,694.62 293.19,695.33 293.51,694.02 292.48,693.15 293.83,693.05" fill="#ff0000"/>
<polygon points="318.03,698.04 318.54,699.30 319.89,699.40 318.86,700.27 319.18,701.58 318.03,700.87 316.88,701.58 317.20,700.27 316.17,699.40 317.52,699.30" fill="#ff0000"/>
<path d="M33.75 742.75L57.44 685.25L81.13 604.50L104.82 716.00L128.51 620.25L152.20 741.50L175.89 727.50L199.58 698.50L223.27 660.50L246.96 697.50L270.65 742.75L294.34 687.75L318.03 659.00" fill="none" stroke="#0e860e" stroke-width="1.05" stroke-linejoin="round" clip-path="url(#c6)"/>
<polygon points="33.75,741.25 34.15,742.20 35.18,742.29 34.39,742.96 34.63,743.96 33.75,743.42 32.87,743.96 33.11,742.96 32.32,742.29 33.35,742.20" fill="#0e860e"/>
<polygon points="57.44,683.75 57.84,684.70 58.87,684.79 58.08,685.46 58.32,686.46 57.44,685.92 56.56,686.46 56.80,685.46 56.01,684.79 57.04,684.70" fill="#0e860e"/>
<polygon points="81.13,603.00 81.53,603.95 82.56,604.04 81.77,604.71 82.01,605.71 81.13,605.17 80.25,605.71 80.49,604.71 79.70,604.04 80.73,603.95" fill="#0e860e"/>
<polygon points="104.82,714.50 105.22,715.45 106.25,715.54 105.46,716.21 105.70,717.21 104.82,716.67 103.94,717.21 104.18,716.21 103.39,715.54 104.42,715.45" fill="#0e860e"/>
<polygon points="128.51,618.75 128.91,619.70 129.94,619.79 129.15,620.46 129.39,621.46 128.51,620.92 127.63,621.46 127.87,620.46 127.08,619.79 128.11,619.70" fill="#0e860e"/>
<polygon points="152.20,740.00 152.60,740.95 153.63,741.04 152.84,741.71 153.08,742.71 152.20,742.17 151.32,742.71 151.56,741.71 150.77,741.04 151.80,740.95" fill="#0e860e"/>
<polygon points="175.89,726.00 176.29,726.95 177.32,727.04 176.53,727.71 176.77,728.71 175.89,728.17 175.01,728.71 175.25,727.71 174.46,727.04 175.49,726.95" fill="#0e860e"/>
<polygon points="199.58,697.00 199.98,697.95 201.01,698.04 200.22,698.71 200.46,699.71 199.58,699.17 198.70,699.71 198.94,698.71 198.15,698.04 199.18,697.95" fill="#0e860e"/>
<polygon points="223.27,659.00 223.67,659.95 224.70,660.04 223.91,660.71 224.15,661.71 223.27,661.17 222.39,661.71 222.63,660.71 221.84,660.04 222.87,659.95" fill="#0e860e"/>
<polygon points="246.96,696.00 247.36,696.95 248.39,697.04 247.60,697.71 247.84,698.71 246.96,698.17 246.08,698.71 246.32,697.71 245.53,697.04 246.56,696.95" fill="#0e860e"/>
<polygon points="270.65,741.25 271.05,742.20 272.08,742.29 271.29,742.96 271.53,743.96 270.65,743.42 269.77,743.96 270.01,742.96 269.22,742.29 270.25,742.20" fill="#0e860e"/>
<polygon points="294.34,686.25 294.74,687.20 295.77,687.29 294.98,687.96 295.22,688.96 294.34,688.42 293.46,688.96 293.70,687.96 292.91,687.29 293.94,687.20" fill="#0e860e"/>
<polygon points="318.03,657.50 318.43,658.45 319.46,658.54 318.67,659.21 318.91,660.21 318.03,659.67 317.15,660.21 317.39,659.21 316.60,658.54 317.63,658.45" fill="#0e860e"/>
<path d="M19.50 597.30L19.50 752.40" stroke="#838383" stroke-width="1" stroke-linecap="square"/>
<path d="M332.50 597.30L332.50 752.40" stroke="#838383" stroke-width="1" stroke-linecap="square"/>
<path d="M19.50 597.30L332.50 597.30" stroke="#838383" stroke-width="1" stroke-linecap="square"/>
<path d="M19.50 752.40L332.50 752.40" stroke="#838383" stroke-width="1" stroke-linecap="square"/>
<rect x="278.1" y="600.3" width="51.60" height="21.90" rx="1" fill="#fff" fill-opacity="0.8" stroke="#dddddd" stroke-width="0.6"/>
<path d="M279.50 603.80H289.90" stroke="#0000ff" stroke-width="1.15"/>
<circle cx="284.70" cy="603.80" r="1.60" fill="#0000ff"/>
<text x="293.30" y="605.71" font-size="5.30" class="k">30 Dimension</text>
<path d="M279.50 610.50H289.90" stroke="#ff0000" stroke-width="1.15"/>
<polygon points="284.70,608.54 285.21,609.80 286.56,609.90 285.53,610.77 285.85,612.08 284.70,611.37 283.55,612.08 283.87,610.77 282.84,609.90 284.19,609.80" fill="#ff0000"/>
<text x="293.30" y="612.41" font-size="5.30" class="k">50 Dimension</text>
<path d="M279.50 617.30H289.90" stroke="#0e860e" stroke-width="1.15"/>
<polygon points="284.70,615.80 285.10,616.75 286.13,616.84 285.34,617.51 285.58,618.51 284.70,617.97 283.82,618.51 284.06,617.51 283.27,616.84 284.30,616.75" fill="#0e860e"/>
<text x="293.30" y="619.21" font-size="5.30" class="k">100 Dimension</text>
<clipPath id="c7"><rect x="390.5" y="602.5" width="293.00" height="145.30"/></clipPath>
<text x="515.20" y="600.25" font-size="5.46" textLength="44.10" lengthAdjust="spacingAndGlyphs" class="t">TSO Comparison</text>
<path d="M388.80 602.75H390.5" stroke="#5a5a5a" stroke-width="0.7"/>
<text transform="translate(387.60,604.03) scale(1.12,1)" font-size="4.40" text-anchor="end" class="k">8.127 × 10<tspan dx="0.25" dy="-1.85" font-size="2.82">−1</tspan></text>
<path d="M388.80 748.25H390.5" stroke="#5a5a5a" stroke-width="0.7"/>
<text transform="translate(387.60,749.53) scale(1.12,1)" font-size="4.40" text-anchor="end" class="k">−3.87 × 10<tspan dx="0.25" dy="-1.85" font-size="2.82">−1</tspan></text>
<path d="M403.75 747.8V749.50" stroke="#5a5a5a" stroke-width="0.7"/>
<text transform="translate(403.75,755.40) rotate(-45)" y="1.76" font-size="4.90" text-anchor="middle" class="k">F1</text>
<path d="M425.98 747.8V749.50" stroke="#5a5a5a" stroke-width="0.7"/>
<text transform="translate(425.98,755.40) rotate(-45)" y="1.76" font-size="4.90" text-anchor="middle" class="k">F2</text>
<path d="M448.21 747.8V749.50" stroke="#5a5a5a" stroke-width="0.7"/>
<text transform="translate(448.21,755.40) rotate(-45)" y="1.76" font-size="4.90" text-anchor="middle" class="k">F3</text>
<path d="M470.44 747.8V749.50" stroke="#5a5a5a" stroke-width="0.7"/>
<text transform="translate(470.44,755.40) rotate(-45)" y="1.76" font-size="4.90" text-anchor="middle" class="k">F4</text>
<path d="M492.67 747.8V749.50" stroke="#5a5a5a" stroke-width="0.7"/>
<text transform="translate(492.67,755.40) rotate(-45)" y="1.76" font-size="4.90" text-anchor="middle" class="k">F5</text>
<path d="M514.90 747.8V749.50" stroke="#5a5a5a" stroke-width="0.7"/>
<text transform="translate(514.90,755.40) rotate(-45)" y="1.76" font-size="4.90" text-anchor="middle" class="k">F6</text>
<path d="M537.13 747.8V749.50" stroke="#5a5a5a" stroke-width="0.7"/>
<text transform="translate(537.13,755.40) rotate(-45)" y="1.76" font-size="4.90" text-anchor="middle" class="k">F7</text>
<path d="M559.36 747.8V749.50" stroke="#5a5a5a" stroke-width="0.7"/>
<text transform="translate(559.36,755.40) rotate(-45)" y="1.76" font-size="4.90" text-anchor="middle" class="k">F8</text>
<path d="M581.59 747.8V749.50" stroke="#5a5a5a" stroke-width="0.7"/>
<text transform="translate(581.59,755.40) rotate(-45)" y="1.76" font-size="4.90" text-anchor="middle" class="k">F9</text>
<path d="M603.82 747.8V749.50" stroke="#5a5a5a" stroke-width="0.7"/>
<text transform="translate(603.82,755.40) rotate(-45)" y="1.76" font-size="4.90" text-anchor="middle" class="k">F10</text>
<path d="M626.05 747.8V749.50" stroke="#5a5a5a" stroke-width="0.7"/>
<text transform="translate(626.05,755.40) rotate(-45)" y="1.76" font-size="4.90" text-anchor="middle" class="k">F11</text>
<path d="M648.28 747.8V749.50" stroke="#5a5a5a" stroke-width="0.7"/>
<text transform="translate(648.28,755.40) rotate(-45)" y="1.76" font-size="4.90" text-anchor="middle" class="k">F12</text>
<path d="M670.51 747.8V749.50" stroke="#5a5a5a" stroke-width="0.7"/>
<text transform="translate(670.51,755.40) rotate(-45)" y="1.76" font-size="4.90" text-anchor="middle" class="k">F13</text>
<text x="537.00" y="766.07" font-size="4.64" text-anchor="middle" class="k">Functions</text>
<text transform="translate(356.67,675.95) rotate(-90)" font-size="4.64" text-anchor="middle" class="k">Fitness</text>
<path d="M492.67 741.50L514.90 726.20L537.13 731.80L559.36 741.80M626.05 741.80L648.28 738.00L670.51 733.80" fill="none" stroke="#0000ff" stroke-width="1.05" stroke-linejoin="round" clip-path="url(#c7)"/>
<circle cx="403.75" cy="741.50" r="1.60" fill="#0000ff"/>
<circle cx="425.98" cy="741.50" r="1.60" fill="#0000ff"/>
<circle cx="448.21" cy="741.50" r="1.60" fill="#0000ff"/>
<circle cx="470.44" cy="741.50" r="1.60" fill="#0000ff"/>
<circle cx="492.67" cy="741.50" r="1.60" fill="#0000ff"/>
<circle cx="514.90" cy="726.20" r="1.60" fill="#0000ff"/>
<circle cx="537.13" cy="731.80" r="1.60" fill="#0000ff"/>
<circle cx="559.36" cy="741.80" r="1.60" fill="#0000ff"/>
<circle cx="581.59" cy="741.80" r="1.60" fill="#0000ff"/>
<circle cx="603.82" cy="741.80" r="1.60" fill="#0000ff"/>
<circle cx="626.05" cy="741.80" r="1.60" fill="#0000ff"/>
<circle cx="648.28" cy="738.00" r="1.60" fill="#0000ff"/>
<circle cx="670.51" cy="733.80" r="1.60" fill="#0000ff"/>
<path d="M492.67 741.50L514.90 730.00L537.13 729.00L559.36 741.80M648.28 741.00L670.51 731.00" fill="none" stroke="#ff0000" stroke-width="1.05" stroke-linejoin="round" clip-path="url(#c7)"/>
<polygon points="403.75,739.54 404.26,740.80 405.61,740.90 404.58,741.77 404.90,743.08 403.75,742.37 402.60,743.08 402.92,741.77 401.89,740.90 403.24,740.80" fill="#ff0000"/>
<polygon points="425.98,739.54 426.49,740.80 427.84,740.90 426.81,741.77 427.13,743.08 425.98,742.37 424.83,743.08 425.15,741.77 424.12,740.90 425.47,740.80" fill="#ff0000"/>
<polygon points="448.21,739.54 448.72,740.80 450.07,740.90 449.04,741.77 449.36,743.08 448.21,742.37 447.06,743.08 447.38,741.77 446.35,740.90 447.70,740.80" fill="#ff0000"/>
<polygon points="470.44,739.54 470.95,740.80 472.30,740.90 471.27,741.77 471.59,743.08 470.44,742.37 469.29,743.08 469.61,741.77 468.58,740.90 469.93,740.80" fill="#ff0000"/>
<polygon points="492.67,739.54 493.18,740.80 494.53,740.90 493.50,741.77 493.82,743.08 492.67,742.37 491.52,743.08 491.84,741.77 490.81,740.90 492.16,740.80" fill="#ff0000"/>
<polygon points="514.90,728.04 515.41,729.30 516.76,729.40 515.73,730.27 516.05,731.58 514.90,730.87 513.75,731.58 514.07,730.27 513.04,729.40 514.39,729.30" fill="#ff0000"/>
<polygon points="537.13,727.04 537.64,728.30 538.99,728.40 537.96,729.27 538.28,730.58 537.13,729.87 535.98,730.58 536.30,729.27 535.27,728.40 536.62,728.30" fill="#ff0000"/>
<polygon points="559.36,739.84 559.87,741.10 561.22,741.20 560.19,742.07 560.51,743.38 559.36,742.67 558.21,743.38 558.53,742.07 557.50,741.20 558.85,741.10" fill="#ff0000"/>
<polygon points="581.59,739.84 582.10,741.10 583.45,741.20 582.42,742.07 582.74,743.38 581.59,742.67 580.44,743.38 580.76,742.07 579.73,741.20 581.08,741.10" fill="#ff0000"/>
<polygon points="603.82,739.84 604.33,741.10 605.68,741.20 604.65,742.07 604.97,743.38 603.82,742.67 602.67,743.38 602.99,742.07 601.96,741.20 603.31,741.10" fill="#ff0000"/>
<polygon points="626.05,739.84 626.56,741.10 627.91,741.20 626.88,742.07 627.20,743.38 626.05,742.67 624.90,743.38 625.22,742.07 624.19,741.20 625.54,741.10" fill="#ff0000"/>
<polygon points="648.28,739.04 648.79,740.30 650.14,740.40 649.11,741.27 649.43,742.58 648.28,741.87 647.13,742.58 647.45,741.27 646.42,740.40 647.77,740.30" fill="#ff0000"/>
<polygon points="670.51,729.04 671.02,730.30 672.37,730.40 671.34,731.27 671.66,732.58 670.51,731.87 669.36,732.58 669.68,731.27 668.65,730.40 670.00,730.30" fill="#ff0000"/>
<path d="M403.75 741.50L425.98 741.50L448.21 741.50L470.44 741.50L492.67 741.50L514.90 609.70L537.13 729.80L559.36 741.80L581.59 741.80L603.82 741.80L626.05 741.80L648.28 741.00L670.51 733.30" fill="none" stroke="#0e860e" stroke-width="1.05" stroke-linejoin="round" clip-path="url(#c7)"/>
<polygon points="403.75,740.00 404.15,740.95 405.18,741.04 404.39,741.71 404.63,742.71 403.75,742.17 402.87,742.71 403.11,741.71 402.32,741.04 403.35,740.95" fill="#0e860e"/>
<polygon points="425.98,740.00 426.38,740.95 427.41,741.04 426.62,741.71 426.86,742.71 425.98,742.17 425.10,742.71 425.34,741.71 424.55,741.04 425.58,740.95" fill="#0e860e"/>
<polygon points="448.21,740.00 448.61,740.95 449.64,741.04 448.85,741.71 449.09,742.71 448.21,742.17 447.33,742.71 447.57,741.71 446.78,741.04 447.81,740.95" fill="#0e860e"/>
<polygon points="470.44,740.00 470.84,740.95 471.87,741.04 471.08,741.71 471.32,742.71 470.44,742.17 469.56,742.71 469.80,741.71 469.01,741.04 470.04,740.95" fill="#0e860e"/>
<polygon points="492.67,740.00 493.07,740.95 494.10,741.04 493.31,741.71 493.55,742.71 492.67,742.17 491.79,742.71 492.03,741.71 491.24,741.04 492.27,740.95" fill="#0e860e"/>
<polygon points="514.90,608.20 515.30,609.15 516.33,609.24 515.54,609.91 515.78,610.91 514.90,610.38 514.02,610.91 514.26,609.91 513.47,609.24 514.50,609.15" fill="#0e860e"/>
<polygon points="537.13,728.30 537.53,729.25 538.56,729.34 537.77,730.01 538.01,731.01 537.13,730.47 536.25,731.01 536.49,730.01 535.70,729.34 536.73,729.25" fill="#0e860e"/>
<polygon points="559.36,740.30 559.76,741.25 560.79,741.34 560.00,742.01 560.24,743.01 559.36,742.47 558.48,743.01 558.72,742.01 557.93,741.34 558.96,741.25" fill="#0e860e"/>
<polygon points="581.59,740.30 581.99,741.25 583.02,741.34 582.23,742.01 582.47,743.01 581.59,742.47 580.71,743.01 580.95,742.01 580.16,741.34 581.19,741.25" fill="#0e860e"/>
<polygon points="603.82,740.30 604.22,741.25 605.25,741.34 604.46,742.01 604.70,743.01 603.82,742.47 602.94,743.01 603.18,742.01 602.39,741.34 603.42,741.25" fill="#0e860e"/>
<polygon points="626.05,740.30 626.45,741.25 627.48,741.34 626.69,742.01 626.93,743.01 626.05,742.47 625.17,743.01 625.41,742.01 624.62,741.34 625.65,741.25" fill="#0e860e"/>
<polygon points="648.28,739.50 648.68,740.45 649.71,740.54 648.92,741.21 649.16,742.21 648.28,741.67 647.40,742.21 647.64,741.21 646.85,740.54 647.88,740.45" fill="#0e860e"/>
<polygon points="670.51,731.80 670.91,732.75 671.94,732.84 671.15,733.51 671.39,734.51 670.51,733.97 669.63,734.51 669.87,733.51 669.08,732.84 670.11,732.75" fill="#0e860e"/>
<path d="M390.50 602.50L390.50 748.30" stroke="#838383" stroke-width="1" stroke-linecap="square"/>
<path d="M683.50 602.50L683.50 748.30" stroke="#b0b0b0" stroke-width="1" stroke-linecap="square"/>
<path d="M390.50 602.50L683.50 602.50" stroke="#838383" stroke-width="1" stroke-linecap="square"/>
<path d="M390.50 748.30L683.50 748.30" stroke="#e0e0e0" stroke-width="1" stroke-linecap="square"/>
<rect x="632.6" y="604.9" width="48.60" height="20.70" rx="1" fill="#fff" fill-opacity="0.8" stroke="#dddddd" stroke-width="0.6"/>
<path d="M633.87 608.40H643.34" stroke="#0000ff" stroke-width="1.15"/>
<circle cx="638.61" cy="608.40" r="1.60" fill="#0000ff"/>
<text x="646.43" y="610.14" font-size="4.82" class="k">30 Dimension</text>
<path d="M633.87 614.90H643.34" stroke="#ff0000" stroke-width="1.15"/>
<polygon points="638.61,612.94 639.12,614.20 640.47,614.30 639.43,615.17 639.76,616.48 638.61,615.77 637.46,616.48 637.78,615.17 636.74,614.30 638.09,614.20" fill="#ff0000"/>
<text x="646.43" y="616.64" font-size="4.82" class="k">50 Dimension</text>
<path d="M633.87 621.50H643.34" stroke="#0e860e" stroke-width="1.15"/>
<polygon points="638.61,620.00 639.00,620.95 640.03,621.04 639.25,621.71 639.49,622.71 638.61,622.17 637.72,622.71 637.96,621.71 637.18,621.04 638.21,620.95" fill="#0e860e"/>
<text x="646.43" y="623.24" font-size="4.82" class="k">100 Dimension</text>
</svg></body></html>
